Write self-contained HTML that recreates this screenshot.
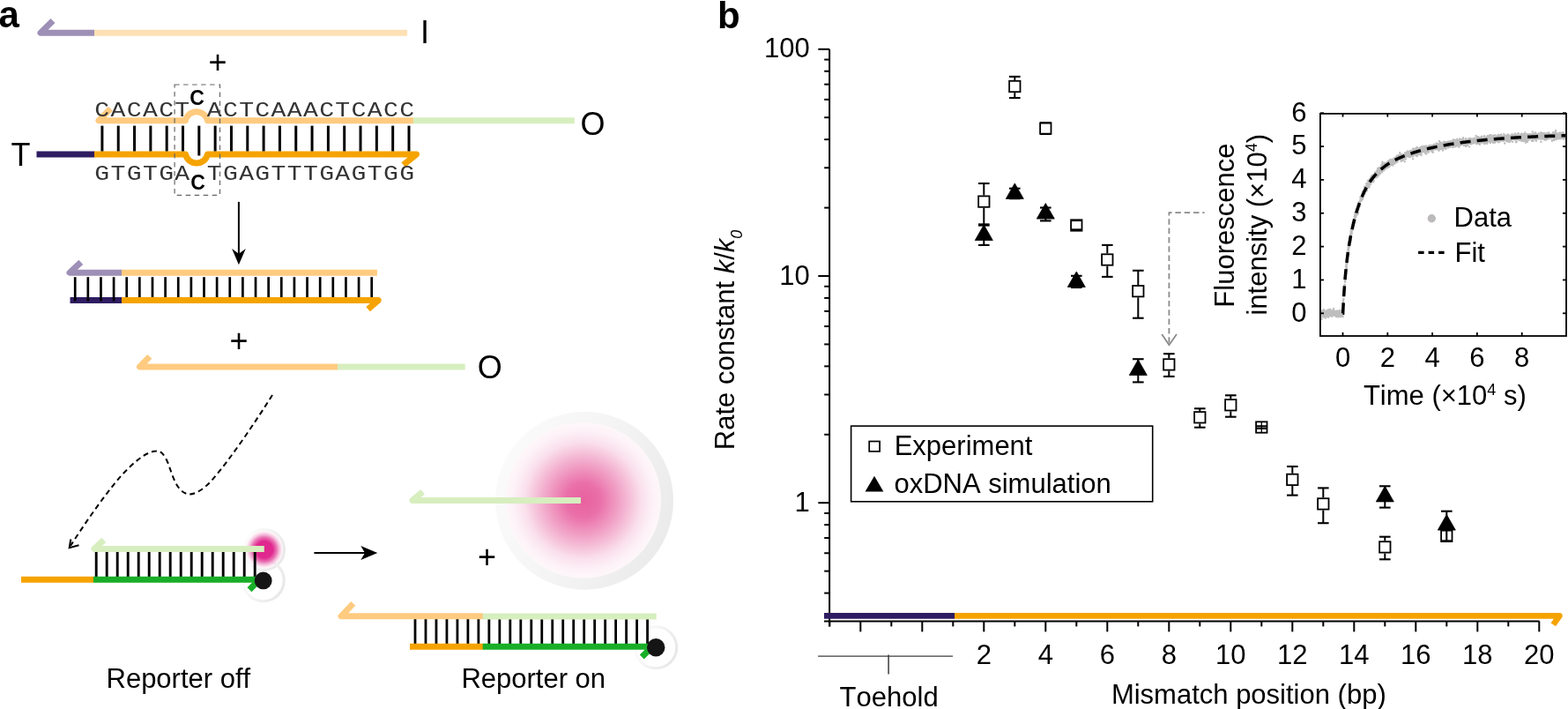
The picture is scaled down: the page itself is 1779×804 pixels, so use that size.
<!DOCTYPE html>
<html><head><meta charset="utf-8"><title>Figure</title>
<style>html,body{margin:0;padding:0;background:#fff;}svg{display:block;}text{font-kerning:none;}</style>
</head><body>
<svg width="1779" height="804" viewBox="0 0 1779 804">
<rect width="1779" height="804" fill="#fff"/>
<text x="-1.5" y="30.8" font-family="'Liberation Sans', Arial, sans-serif" font-size="42" text-anchor="start" font-weight="bold" >a</text>
<path d="M60,23.6 L46,37.3 H107.5" stroke="#9d8fb6" stroke-width="7" fill="none" stroke-linejoin="round"/>
<line x1="107" y1="37.3" x2="462" y2="37.3" stroke="#fde0b3" stroke-width="7" />
<text x="477.1" y="48.6" font-family="'Liberation Sans', Arial, sans-serif" font-size="36" text-anchor="start" font-weight="normal" >I</text>
<text x="247" y="82.7" font-family="'Liberation Sans', Arial, sans-serif" font-size="36" text-anchor="middle" font-weight="normal" >+</text>
<text x="12.6" y="188" font-family="'Liberation Sans', Arial, sans-serif" font-size="36" text-anchor="start" font-weight="normal" >T</text>
<line x1="41.5" y1="175" x2="107.5" y2="175" stroke="#2e1c62" stroke-width="7" />
<path d="M107,175 H210.5 A12.8,12.8 0 0 0 235.5,175 H472.5 L457.6,187" stroke="#f5a300" stroke-width="7" fill="none" stroke-linejoin="round"/>
<path d="M125.5,123.3 L112,136.8 H210.4 A12.8,12.8 0 0 1 235.4,136.8 H469" stroke="#ffcb80" stroke-width="7" fill="none" stroke-linejoin="round"/>
<line x1="468.8" y1="136.8" x2="651.8" y2="136.8" stroke="#d7eebf" stroke-width="7" />
<text x="658.4" y="153" font-family="'Liberation Sans', Arial, sans-serif" font-size="36" text-anchor="start" font-weight="normal" >O</text>
<line x1="115.9" y1="142.6" x2="115.9" y2="171.5" stroke="#000" stroke-width="3" />
<line x1="134.22" y1="142.6" x2="134.22" y2="171.5" stroke="#000" stroke-width="3" />
<line x1="152.54" y1="142.6" x2="152.54" y2="171.5" stroke="#000" stroke-width="3" />
<line x1="170.86" y1="142.6" x2="170.86" y2="171.5" stroke="#000" stroke-width="3" />
<line x1="189.18" y1="142.6" x2="189.18" y2="171.5" stroke="#000" stroke-width="3" />
<line x1="207.5" y1="142.6" x2="207.5" y2="171.5" stroke="#000" stroke-width="3" />
<line x1="225.82" y1="142.6" x2="225.82" y2="176.5" stroke="#000" stroke-width="3" />
<line x1="244.14" y1="142.6" x2="244.14" y2="171.5" stroke="#000" stroke-width="3" />
<line x1="262.46" y1="142.6" x2="262.46" y2="171.5" stroke="#000" stroke-width="3" />
<line x1="280.78" y1="142.6" x2="280.78" y2="171.5" stroke="#000" stroke-width="3" />
<line x1="299.1" y1="142.6" x2="299.1" y2="171.5" stroke="#000" stroke-width="3" />
<line x1="317.42" y1="142.6" x2="317.42" y2="171.5" stroke="#000" stroke-width="3" />
<line x1="335.74" y1="142.6" x2="335.74" y2="171.5" stroke="#000" stroke-width="3" />
<line x1="354.06" y1="142.6" x2="354.06" y2="171.5" stroke="#000" stroke-width="3" />
<line x1="372.38" y1="142.6" x2="372.38" y2="171.5" stroke="#000" stroke-width="3" />
<line x1="390.7" y1="142.6" x2="390.7" y2="171.5" stroke="#000" stroke-width="3" />
<line x1="409.02" y1="142.6" x2="409.02" y2="171.5" stroke="#000" stroke-width="3" />
<line x1="427.34" y1="142.6" x2="427.34" y2="171.5" stroke="#000" stroke-width="3" />
<line x1="445.66" y1="142.6" x2="445.66" y2="171.5" stroke="#000" stroke-width="3" />
<line x1="463.98" y1="142.6" x2="463.98" y2="171.5" stroke="#000" stroke-width="3" />
<text transform="scale(1.17,1)" x="98.97 114.53 130.09 145.64 161.2 176.75 192.31 207.86 223.42 238.97 254.53 270.09 285.64 301.2 316.75 332.31 347.86 363.42 378.97 394.53" y="131.8" font-family="'Liberation Mono', 'Courier New', monospace" font-size="24" text-anchor="middle" fill="#333" xml:space="preserve">CACACT ACTCAAACTCACC</text>
<text transform="scale(1.17,1)" x="98.97 114.53 130.09 145.64 161.2 176.75 192.31 207.86 223.42 238.97 254.53 270.09 285.64 301.2 316.75 332.31 347.86 363.42 378.97 394.53" y="204.4" font-family="'Liberation Mono', 'Courier New', monospace" font-size="24" text-anchor="middle" fill="#333" xml:space="preserve">GTGTGA TGAGTTTGAGTGG</text>
<text x="223.6" y="118.7" font-family="'Liberation Sans', Arial, sans-serif" font-size="23" text-anchor="middle" font-weight="bold" >C</text>
<text x="224.6" y="215.4" font-family="'Liberation Sans', Arial, sans-serif" font-size="23" text-anchor="middle" font-weight="bold" >C</text>
<rect x="198.1" y="96" width="51.4" height="125.3" fill="none" stroke="#666" stroke-width="1.2" stroke-dasharray="5.5 4.5"/>
<line x1="270.9" y1="228.9" x2="270.9" y2="290" stroke="#000" stroke-width="2" />
<path d="M270.9,300.3 L263.1,282.1 L270.9,287.8 L278.8,282.1 Z" fill="#000"/>
<line x1="79.5" y1="340.4" x2="138.5" y2="340.4" stroke="#2e1c62" stroke-width="7" />
<line x1="85.2" y1="314.2" x2="85.2" y2="341.5" stroke="#000" stroke-width="2.7" />
<line x1="99.83" y1="314.2" x2="99.83" y2="341.5" stroke="#000" stroke-width="2.7" />
<line x1="114.46" y1="314.2" x2="114.46" y2="341.5" stroke="#000" stroke-width="2.7" />
<line x1="129.09" y1="314.2" x2="129.09" y2="341.5" stroke="#000" stroke-width="2.7" />
<line x1="143.72" y1="314.2" x2="143.72" y2="341.5" stroke="#000" stroke-width="2.7" />
<line x1="158.35" y1="314.2" x2="158.35" y2="341.5" stroke="#000" stroke-width="2.7" />
<line x1="172.98" y1="314.2" x2="172.98" y2="341.5" stroke="#000" stroke-width="2.7" />
<line x1="187.61" y1="314.2" x2="187.61" y2="341.5" stroke="#000" stroke-width="2.7" />
<line x1="202.24" y1="314.2" x2="202.24" y2="341.5" stroke="#000" stroke-width="2.7" />
<line x1="216.87" y1="314.2" x2="216.87" y2="341.5" stroke="#000" stroke-width="2.7" />
<line x1="231.5" y1="314.2" x2="231.5" y2="341.5" stroke="#000" stroke-width="2.7" />
<line x1="246.13" y1="314.2" x2="246.13" y2="341.5" stroke="#000" stroke-width="2.7" />
<line x1="260.76" y1="314.2" x2="260.76" y2="341.5" stroke="#000" stroke-width="2.7" />
<line x1="275.39" y1="314.2" x2="275.39" y2="341.5" stroke="#000" stroke-width="2.7" />
<line x1="290.02" y1="314.2" x2="290.02" y2="341.5" stroke="#000" stroke-width="2.7" />
<line x1="304.65" y1="314.2" x2="304.65" y2="341.5" stroke="#000" stroke-width="2.7" />
<line x1="319.28" y1="314.2" x2="319.28" y2="341.5" stroke="#000" stroke-width="2.7" />
<line x1="333.91" y1="314.2" x2="333.91" y2="341.5" stroke="#000" stroke-width="2.7" />
<line x1="348.54" y1="314.2" x2="348.54" y2="341.5" stroke="#000" stroke-width="2.7" />
<line x1="363.17" y1="314.2" x2="363.17" y2="341.5" stroke="#000" stroke-width="2.7" />
<line x1="377.8" y1="314.2" x2="377.8" y2="341.5" stroke="#000" stroke-width="2.7" />
<line x1="392.43" y1="314.2" x2="392.43" y2="341.5" stroke="#000" stroke-width="2.7" />
<line x1="407.06" y1="314.2" x2="407.06" y2="341.5" stroke="#000" stroke-width="2.7" />
<line x1="421.69" y1="314.2" x2="421.69" y2="341.5" stroke="#000" stroke-width="2.7" />
<path d="M91.8,297.4 L79,309.2 H138.5" stroke="#9d8fb6" stroke-width="7" fill="none" stroke-linejoin="round"/>
<line x1="138" y1="309.2" x2="427.9" y2="309.2" stroke="#ffcb80" stroke-width="7" />
<path d="M138,340.6 H429.2 L417.6,350.6" stroke="#f5a300" stroke-width="7" fill="none" stroke-linejoin="round"/>
<text x="271" y="398.6" font-family="'Liberation Sans', Arial, sans-serif" font-size="36" text-anchor="middle" font-weight="normal" >+</text>
<path d="M169.8,404.4 L158.5,415.9 H383.2" stroke="#ffcb80" stroke-width="7" fill="none" stroke-linejoin="round"/>
<line x1="382.9" y1="415.9" x2="527.7" y2="415.9" stroke="#d7eebf" stroke-width="7" />
<text x="541.8" y="428.6" font-family="'Liberation Sans', Arial, sans-serif" font-size="36" text-anchor="start" font-weight="normal" >O</text>
<path d="M309,448 C290,478 262,520 240,545 C228,558 218,562 212,560 C200,556 196,540 191,526 C186,514 182,511 177,511.6 C165,512 150,526 137,540 C118,562 96,594 80,619" stroke="#000" stroke-width="2" fill="none" stroke-dasharray="6 4.2"/>
<path d="M80.3,611.5 L78.7,621.2 L89.5,618.2" stroke="#000" stroke-width="2" fill="none" stroke-linejoin="miter"/>
<defs>
<radialGradient id="gsmall" cx="0.5" cy="0.5" r="0.5">
 <stop offset="0" stop-color="#e2308f"/>
 <stop offset="0.45" stop-color="#e5449a"/>
 <stop offset="0.75" stop-color="#f0a0c8" stop-opacity="0.8"/>
 <stop offset="1" stop-color="#ffffff" stop-opacity="0"/>
</radialGradient>
<radialGradient id="gbig" cx="0.5" cy="0.5" r="0.5">
 <stop offset="0" stop-color="#e8619f"/>
 <stop offset="0.22" stop-color="#ea6fa9"/>
 <stop offset="0.5" stop-color="#f2aacb"/>
 <stop offset="0.75" stop-color="#fae0ec"/>
 <stop offset="0.9" stop-color="#fdf2f7"/>
 <stop offset="1" stop-color="#fef7fa"/>
</radialGradient>
<linearGradient id="ringbig" x1="0" y1="0.3" x2="1" y2="0.7">
 <stop offset="0" stop-color="#fbfbfb"/>
 <stop offset="0.5" stop-color="#f4f4f4"/>
 <stop offset="1" stop-color="#eaeaea"/>
</linearGradient>
<linearGradient id="ring" x1="0.05" y1="0.2" x2="0.95" y2="0.6">
 <stop offset="0" stop-color="#fdfdfd"/>
 <stop offset="0.45" stop-color="#f4f4f4"/>
 <stop offset="1" stop-color="#e8e8e8"/>
</linearGradient>
<radialGradient id="gsm2" cx="0.5" cy="0.5" r="0.5">
 <stop offset="0" stop-color="#e0268e"/>
 <stop offset="0.42" stop-color="#e02a90"/>
 <stop offset="0.62" stop-color="#e86aae" stop-opacity="0.9"/>
 <stop offset="0.82" stop-color="#f6c4de" stop-opacity="0.6"/>
 <stop offset="1" stop-color="#ffffff" stop-opacity="0"/>
</radialGradient>
</defs>
<circle cx="299.5" cy="623.3" r="23" fill="none" stroke="url(#ring)" stroke-width="3"/>
<circle cx="298.7" cy="658.3" r="23.5" fill="none" stroke="url(#ring)" stroke-width="3"/>
<circle cx="299.8" cy="623.2" r="23" fill="url(#gsm2)"/>
<line x1="24" y1="657.2" x2="106.5" y2="657.2" stroke="#f5a300" stroke-width="7" />
<line x1="109.2" y1="625.5" x2="109.2" y2="654" stroke="#000" stroke-width="2.9" />
<line x1="121.2" y1="625.5" x2="121.2" y2="654" stroke="#000" stroke-width="2.9" />
<line x1="133.2" y1="625.5" x2="133.2" y2="654" stroke="#000" stroke-width="2.9" />
<line x1="145.2" y1="625.5" x2="145.2" y2="654" stroke="#000" stroke-width="2.9" />
<line x1="157.2" y1="625.5" x2="157.2" y2="654" stroke="#000" stroke-width="2.9" />
<line x1="169.2" y1="625.5" x2="169.2" y2="654" stroke="#000" stroke-width="2.9" />
<line x1="181.2" y1="625.5" x2="181.2" y2="654" stroke="#000" stroke-width="2.9" />
<line x1="193.2" y1="625.5" x2="193.2" y2="654" stroke="#000" stroke-width="2.9" />
<line x1="205.2" y1="625.5" x2="205.2" y2="654" stroke="#000" stroke-width="2.9" />
<line x1="217.2" y1="625.5" x2="217.2" y2="654" stroke="#000" stroke-width="2.9" />
<line x1="229.2" y1="625.5" x2="229.2" y2="654" stroke="#000" stroke-width="2.9" />
<line x1="241.2" y1="625.5" x2="241.2" y2="654" stroke="#000" stroke-width="2.9" />
<line x1="253.2" y1="625.5" x2="253.2" y2="654" stroke="#000" stroke-width="2.9" />
<line x1="265.2" y1="625.5" x2="265.2" y2="654" stroke="#000" stroke-width="2.9" />
<line x1="277.2" y1="625.5" x2="277.2" y2="654" stroke="#000" stroke-width="2.9" />
<line x1="289.2" y1="625.5" x2="289.2" y2="654" stroke="#000" stroke-width="2.9" />
<path d="M106,657.3 H294.5 L283,668.8" stroke="#19ae28" stroke-width="7" fill="none" stroke-linejoin="round"/>
<path d="M117.8,612.4 L107,622.4 H299.8" stroke="#d7eebf" stroke-width="7" fill="none" stroke-linejoin="round"/>
<circle cx="298.7" cy="658.4" r="9.9" fill="#151515"/>
<line x1="356.4" y1="627" x2="416" y2="627" stroke="#000" stroke-width="2" />
<path d="M428.3,627 L409.3,619.1 L414,627 L409.3,635 Z" fill="#000"/>
<text x="552.6" y="644.3" font-family="'Liberation Sans', Arial, sans-serif" font-size="36" text-anchor="middle" font-weight="normal" >+</text>
<circle cx="663" cy="567.8" r="101" fill="url(#ringbig)"/>
<circle cx="661.6" cy="567.3" r="88.4" fill="url(#gbig)"/>
<path d="M479.6,557.8 L468,567.4 H659" stroke="#d7eebf" stroke-width="7" fill="none" stroke-linejoin="round"/>
<circle cx="744.2" cy="734.3" r="23.5" fill="none" stroke="url(#ring)" stroke-width="3"/>
<line x1="471" y1="702" x2="471" y2="731" stroke="#000" stroke-width="2.8" />
<line x1="482.98" y1="702" x2="482.98" y2="731" stroke="#000" stroke-width="2.8" />
<line x1="494.96" y1="702" x2="494.96" y2="731" stroke="#000" stroke-width="2.8" />
<line x1="506.94" y1="702" x2="506.94" y2="731" stroke="#000" stroke-width="2.8" />
<line x1="518.92" y1="702" x2="518.92" y2="731" stroke="#000" stroke-width="2.8" />
<line x1="530.9" y1="702" x2="530.9" y2="731" stroke="#000" stroke-width="2.8" />
<line x1="542.88" y1="702" x2="542.88" y2="731" stroke="#000" stroke-width="2.8" />
<line x1="554.86" y1="702" x2="554.86" y2="731" stroke="#000" stroke-width="2.8" />
<line x1="566.84" y1="702" x2="566.84" y2="731" stroke="#000" stroke-width="2.8" />
<line x1="578.82" y1="702" x2="578.82" y2="731" stroke="#000" stroke-width="2.8" />
<line x1="590.8" y1="702" x2="590.8" y2="731" stroke="#000" stroke-width="2.8" />
<line x1="602.78" y1="702" x2="602.78" y2="731" stroke="#000" stroke-width="2.8" />
<line x1="614.76" y1="702" x2="614.76" y2="731" stroke="#000" stroke-width="2.8" />
<line x1="626.74" y1="702" x2="626.74" y2="731" stroke="#000" stroke-width="2.8" />
<line x1="638.72" y1="702" x2="638.72" y2="731" stroke="#000" stroke-width="2.8" />
<line x1="650.7" y1="702" x2="650.7" y2="731" stroke="#000" stroke-width="2.8" />
<line x1="662.68" y1="702" x2="662.68" y2="731" stroke="#000" stroke-width="2.8" />
<line x1="674.66" y1="702" x2="674.66" y2="731" stroke="#000" stroke-width="2.8" />
<line x1="686.64" y1="702" x2="686.64" y2="731" stroke="#000" stroke-width="2.8" />
<line x1="698.62" y1="702" x2="698.62" y2="731" stroke="#000" stroke-width="2.8" />
<line x1="710.6" y1="702" x2="710.6" y2="731" stroke="#000" stroke-width="2.8" />
<line x1="722.58" y1="702" x2="722.58" y2="731" stroke="#000" stroke-width="2.8" />
<line x1="734.56" y1="702" x2="734.56" y2="731" stroke="#000" stroke-width="2.8" />
<path d="M400.8,684.4 L387,698.8 H548" stroke="#ffcb80" stroke-width="7" fill="none" stroke-linejoin="round"/>
<line x1="547.7" y1="699" x2="744.7" y2="699" stroke="#d7eebf" stroke-width="7" />
<line x1="465" y1="733.3" x2="548" y2="733.3" stroke="#f5a300" stroke-width="7" />
<path d="M547.7,733.3 H740 L728.3,745" stroke="#19ae28" stroke-width="7" fill="none" stroke-linejoin="round"/>
<circle cx="744.2" cy="734.3" r="10.2" fill="#151515"/>
<text x="120.5" y="779.5" font-family="'Liberation Sans', Arial, sans-serif" font-size="31" text-anchor="start" font-weight="normal" >Reporter off</text>
<text x="523.4" y="779.5" font-family="'Liberation Sans', Arial, sans-serif" font-size="31" text-anchor="start" font-weight="normal" >Reporter on</text>
<text x="814" y="32" font-family="'Liberation Sans', Arial, sans-serif" font-size="42" text-anchor="start" font-weight="bold" >b</text>
<line x1="941.1" y1="55.8" x2="941.1" y2="710.4" stroke="#000" stroke-width="2" />
<line x1="935.2" y1="672.55" x2="941.1" y2="672.55" stroke="#000" stroke-width="2" />
<line x1="935.2" y1="647.62" x2="941.1" y2="647.62" stroke="#000" stroke-width="2" />
<line x1="935.2" y1="627.26" x2="941.1" y2="627.26" stroke="#000" stroke-width="2" />
<line x1="935.2" y1="610.04" x2="941.1" y2="610.04" stroke="#000" stroke-width="2" />
<line x1="935.2" y1="595.13" x2="941.1" y2="595.13" stroke="#000" stroke-width="2" />
<line x1="935.2" y1="581.97" x2="941.1" y2="581.97" stroke="#000" stroke-width="2" />
<line x1="928.3" y1="570.2" x2="941.1" y2="570.2" stroke="#000" stroke-width="2" />
<line x1="935.2" y1="492.78" x2="941.1" y2="492.78" stroke="#000" stroke-width="2" />
<line x1="935.2" y1="447.48" x2="941.1" y2="447.48" stroke="#000" stroke-width="2" />
<line x1="935.2" y1="415.35" x2="941.1" y2="415.35" stroke="#000" stroke-width="2" />
<line x1="935.2" y1="390.42" x2="941.1" y2="390.42" stroke="#000" stroke-width="2" />
<line x1="935.2" y1="370.06" x2="941.1" y2="370.06" stroke="#000" stroke-width="2" />
<line x1="935.2" y1="352.84" x2="941.1" y2="352.84" stroke="#000" stroke-width="2" />
<line x1="935.2" y1="337.93" x2="941.1" y2="337.93" stroke="#000" stroke-width="2" />
<line x1="935.2" y1="324.77" x2="941.1" y2="324.77" stroke="#000" stroke-width="2" />
<line x1="928.3" y1="313" x2="941.1" y2="313" stroke="#000" stroke-width="2" />
<line x1="935.2" y1="235.58" x2="941.1" y2="235.58" stroke="#000" stroke-width="2" />
<line x1="935.2" y1="190.28" x2="941.1" y2="190.28" stroke="#000" stroke-width="2" />
<line x1="935.2" y1="158.15" x2="941.1" y2="158.15" stroke="#000" stroke-width="2" />
<line x1="935.2" y1="133.22" x2="941.1" y2="133.22" stroke="#000" stroke-width="2" />
<line x1="935.2" y1="112.86" x2="941.1" y2="112.86" stroke="#000" stroke-width="2" />
<line x1="935.2" y1="95.64" x2="941.1" y2="95.64" stroke="#000" stroke-width="2" />
<line x1="935.2" y1="80.73" x2="941.1" y2="80.73" stroke="#000" stroke-width="2" />
<line x1="935.2" y1="67.57" x2="941.1" y2="67.57" stroke="#000" stroke-width="2" />
<line x1="928.3" y1="55.8" x2="941.1" y2="55.8" stroke="#000" stroke-width="2" />
<text x="918.8" y="65.4" font-family="'Liberation Sans', Arial, sans-serif" font-size="31" text-anchor="end" font-weight="normal" >100</text>
<text x="918.8" y="322.6" font-family="'Liberation Sans', Arial, sans-serif" font-size="31" text-anchor="end" font-weight="normal" >10</text>
<text x="918.8" y="579.8" font-family="'Liberation Sans', Arial, sans-serif" font-size="31" text-anchor="end" font-weight="normal" >1</text>
<text transform="translate(832.8,510.2) rotate(-90)" font-family="'Liberation Sans', Arial, sans-serif" font-size="31">Rate constant <tspan font-style="italic">k</tspan>/<tspan font-style="italic">k</tspan><tspan font-style="italic" font-size="18" dy="9">0</tspan></text>
<line x1="935" y1="704.5" x2="1746.6" y2="704.5" stroke="#000" stroke-width="2" />
<line x1="941.3" y1="704.5" x2="941.3" y2="710.4" stroke="#000" stroke-width="2" />
<line x1="976.3" y1="704.5" x2="976.3" y2="716.4" stroke="#000" stroke-width="2" />
<line x1="1011.3" y1="704.5" x2="1011.3" y2="710.4" stroke="#000" stroke-width="2" />
<line x1="1046.3" y1="704.5" x2="1046.3" y2="716.4" stroke="#000" stroke-width="2" />
<line x1="1081.3" y1="704.5" x2="1081.3" y2="710.4" stroke="#000" stroke-width="2" />
<line x1="1116.3" y1="704.5" x2="1116.3" y2="716.4" stroke="#000" stroke-width="2" />
<line x1="1151.3" y1="704.5" x2="1151.3" y2="710.4" stroke="#000" stroke-width="2" />
<line x1="1186.3" y1="704.5" x2="1186.3" y2="716.4" stroke="#000" stroke-width="2" />
<line x1="1221.3" y1="704.5" x2="1221.3" y2="710.4" stroke="#000" stroke-width="2" />
<line x1="1256.3" y1="704.5" x2="1256.3" y2="716.4" stroke="#000" stroke-width="2" />
<line x1="1291.3" y1="704.5" x2="1291.3" y2="710.4" stroke="#000" stroke-width="2" />
<line x1="1326.3" y1="704.5" x2="1326.3" y2="716.4" stroke="#000" stroke-width="2" />
<line x1="1361.3" y1="704.5" x2="1361.3" y2="710.4" stroke="#000" stroke-width="2" />
<line x1="1396.3" y1="704.5" x2="1396.3" y2="716.4" stroke="#000" stroke-width="2" />
<line x1="1431.3" y1="704.5" x2="1431.3" y2="710.4" stroke="#000" stroke-width="2" />
<line x1="1466.3" y1="704.5" x2="1466.3" y2="716.4" stroke="#000" stroke-width="2" />
<line x1="1501.3" y1="704.5" x2="1501.3" y2="710.4" stroke="#000" stroke-width="2" />
<line x1="1536.3" y1="704.5" x2="1536.3" y2="716.4" stroke="#000" stroke-width="2" />
<line x1="1571.3" y1="704.5" x2="1571.3" y2="710.4" stroke="#000" stroke-width="2" />
<line x1="1606.3" y1="704.5" x2="1606.3" y2="716.4" stroke="#000" stroke-width="2" />
<line x1="1641.3" y1="704.5" x2="1641.3" y2="710.4" stroke="#000" stroke-width="2" />
<line x1="1676.3" y1="704.5" x2="1676.3" y2="716.4" stroke="#000" stroke-width="2" />
<line x1="1711.3" y1="704.5" x2="1711.3" y2="710.4" stroke="#000" stroke-width="2" />
<line x1="1746.3" y1="704.5" x2="1746.3" y2="716.4" stroke="#000" stroke-width="2" />
<text x="1116.3" y="753.4" font-family="'Liberation Sans', Arial, sans-serif" font-size="31" text-anchor="middle" font-weight="normal" >2</text>
<text x="1186.3" y="753.4" font-family="'Liberation Sans', Arial, sans-serif" font-size="31" text-anchor="middle" font-weight="normal" >4</text>
<text x="1256.3" y="753.4" font-family="'Liberation Sans', Arial, sans-serif" font-size="31" text-anchor="middle" font-weight="normal" >6</text>
<text x="1326.3" y="753.4" font-family="'Liberation Sans', Arial, sans-serif" font-size="31" text-anchor="middle" font-weight="normal" >8</text>
<text x="1396.3" y="753.4" font-family="'Liberation Sans', Arial, sans-serif" font-size="31" text-anchor="middle" font-weight="normal" >10</text>
<text x="1466.3" y="753.4" font-family="'Liberation Sans', Arial, sans-serif" font-size="31" text-anchor="middle" font-weight="normal" >12</text>
<text x="1536.3" y="753.4" font-family="'Liberation Sans', Arial, sans-serif" font-size="31" text-anchor="middle" font-weight="normal" >14</text>
<text x="1606.3" y="753.4" font-family="'Liberation Sans', Arial, sans-serif" font-size="31" text-anchor="middle" font-weight="normal" >16</text>
<text x="1676.3" y="753.4" font-family="'Liberation Sans', Arial, sans-serif" font-size="31" text-anchor="middle" font-weight="normal" >18</text>
<text x="1746.3" y="753.4" font-family="'Liberation Sans', Arial, sans-serif" font-size="31" text-anchor="middle" font-weight="normal" >20</text>
<line x1="935" y1="698.4" x2="1083.5" y2="698.4" stroke="#2e1c62" stroke-width="6.8" />
<path d="M1083,698.4 H1769.3 L1762.3,708.4" stroke="#f5a300" stroke-width="6.8" fill="none" stroke-linejoin="round"/>
<line x1="928.1" y1="744.1" x2="1081" y2="744.1" stroke="#3c3c3c" stroke-width="1.4" />
<line x1="1008.1" y1="742.4" x2="1008.1" y2="764.6" stroke="#3c3c3c" stroke-width="1.5" />
<text x="952.6" y="800.5" font-family="'Liberation Sans', Arial, sans-serif" font-size="31" text-anchor="start" font-weight="normal" >Toehold</text>
<text x="1260.9" y="797.5" font-family="'Liberation Sans', Arial, sans-serif" font-size="31" text-anchor="start" font-weight="normal" >Mismatch position (bp)</text>
<path d="M1366.6,241.2 H1326.4 V390" stroke="#8a8a8a" stroke-width="1.8" fill="none" stroke-dasharray="6.5 3.8" stroke-dashoffset="4.2"/>
<path d="M1318.2,378.9 L1326.4,391.2 L1335,378.9" stroke="#8a8a8a" stroke-width="1.8" fill="none" />
<line x1="1116.3" y1="208" x2="1116.3" y2="221.5" stroke="#000" stroke-width="2" />
<line x1="1116.3" y1="235.7" x2="1116.3" y2="254.4" stroke="#000" stroke-width="2" />
<rect x="1110.1" y="222.4" width="12.4" height="12.4" fill="#fff" stroke="#000" stroke-width="1.8"/>
<line x1="1110" y1="208" x2="1122.6" y2="208" stroke="#000" stroke-width="2.1" />
<line x1="1110" y1="254.4" x2="1122.6" y2="254.4" stroke="#000" stroke-width="2.1" />
<line x1="1151.3" y1="86.9" x2="1151.3" y2="90.9" stroke="#000" stroke-width="2" />
<line x1="1151.3" y1="105.1" x2="1151.3" y2="111" stroke="#000" stroke-width="2" />
<rect x="1145.1" y="91.8" width="12.4" height="12.4" fill="#fff" stroke="#000" stroke-width="1.8"/>
<line x1="1145" y1="86.9" x2="1157.6" y2="86.9" stroke="#000" stroke-width="2.1" />
<line x1="1145" y1="111" x2="1157.6" y2="111" stroke="#000" stroke-width="2.1" />
<rect x="1180.1" y="139.4" width="12.4" height="12.4" fill="#fff" stroke="#000" stroke-width="1.8"/>
<line x1="1180" y1="139.3" x2="1192.6" y2="139.3" stroke="#000" stroke-width="2.1" />
<line x1="1180" y1="151.9" x2="1192.6" y2="151.9" stroke="#000" stroke-width="2.1" />
<rect x="1215.1" y="249.3" width="12.4" height="12.4" fill="#fff" stroke="#000" stroke-width="1.8"/>
<line x1="1215" y1="250" x2="1227.6" y2="250" stroke="#000" stroke-width="2.1" />
<line x1="1215" y1="260.4" x2="1227.6" y2="260.4" stroke="#000" stroke-width="2.1" />
<line x1="1256.3" y1="277.9" x2="1256.3" y2="287.4" stroke="#000" stroke-width="2" />
<line x1="1256.3" y1="301.6" x2="1256.3" y2="313.9" stroke="#000" stroke-width="2" />
<rect x="1250.1" y="288.3" width="12.4" height="12.4" fill="#fff" stroke="#000" stroke-width="1.8"/>
<line x1="1250" y1="277.9" x2="1262.6" y2="277.9" stroke="#000" stroke-width="2.1" />
<line x1="1250" y1="313.9" x2="1262.6" y2="313.9" stroke="#000" stroke-width="2.1" />
<line x1="1291.3" y1="306.8" x2="1291.3" y2="323.1" stroke="#000" stroke-width="2" />
<line x1="1291.3" y1="337.3" x2="1291.3" y2="360.7" stroke="#000" stroke-width="2" />
<rect x="1285.1" y="324" width="12.4" height="12.4" fill="#fff" stroke="#000" stroke-width="1.8"/>
<line x1="1285" y1="306.8" x2="1297.6" y2="306.8" stroke="#000" stroke-width="2.1" />
<line x1="1285" y1="360.7" x2="1297.6" y2="360.7" stroke="#000" stroke-width="2.1" />
<line x1="1326.3" y1="401.2" x2="1326.3" y2="406.3" stroke="#000" stroke-width="2" />
<line x1="1326.3" y1="420.5" x2="1326.3" y2="426.9" stroke="#000" stroke-width="2" />
<rect x="1320.1" y="407.2" width="12.4" height="12.4" fill="#fff" stroke="#000" stroke-width="1.8"/>
<line x1="1320" y1="401.2" x2="1332.6" y2="401.2" stroke="#000" stroke-width="2.1" />
<line x1="1320" y1="426.9" x2="1332.6" y2="426.9" stroke="#000" stroke-width="2.1" />
<line x1="1361.3" y1="463.3" x2="1361.3" y2="466.2" stroke="#000" stroke-width="2" />
<line x1="1361.3" y1="480.4" x2="1361.3" y2="484.7" stroke="#000" stroke-width="2" />
<rect x="1355.1" y="467.1" width="12.4" height="12.4" fill="#fff" stroke="#000" stroke-width="1.8"/>
<line x1="1355" y1="463.3" x2="1367.6" y2="463.3" stroke="#000" stroke-width="2.1" />
<line x1="1355" y1="484.7" x2="1367.6" y2="484.7" stroke="#000" stroke-width="2.1" />
<line x1="1396.3" y1="448.3" x2="1396.3" y2="452.2" stroke="#000" stroke-width="2" />
<line x1="1396.3" y1="466.4" x2="1396.3" y2="472.7" stroke="#000" stroke-width="2" />
<rect x="1390.1" y="453.1" width="12.4" height="12.4" fill="#fff" stroke="#000" stroke-width="1.8"/>
<line x1="1390" y1="448.3" x2="1402.6" y2="448.3" stroke="#000" stroke-width="2.1" />
<line x1="1390" y1="472.7" x2="1402.6" y2="472.7" stroke="#000" stroke-width="2.1" />
<rect x="1425.1" y="478.3" width="12.4" height="12.4" fill="#fff" stroke="#000" stroke-width="1.8"/>
<line x1="1431.3" y1="478.4" x2="1431.3" y2="490.6" stroke="#000" stroke-width="1.3" />
<line x1="1425" y1="483.3" x2="1437.6" y2="483.3" stroke="#000" stroke-width="2.1" />
<line x1="1425" y1="485.8" x2="1437.6" y2="485.8" stroke="#000" stroke-width="2.1" />
<line x1="1466.3" y1="529" x2="1466.3" y2="536.8" stroke="#000" stroke-width="2" />
<line x1="1466.3" y1="551" x2="1466.3" y2="561.6" stroke="#000" stroke-width="2" />
<rect x="1460.1" y="537.7" width="12.4" height="12.4" fill="#fff" stroke="#000" stroke-width="1.8"/>
<line x1="1460" y1="529" x2="1472.6" y2="529" stroke="#000" stroke-width="2.1" />
<line x1="1460" y1="561.6" x2="1472.6" y2="561.6" stroke="#000" stroke-width="2.1" />
<line x1="1501.3" y1="553.4" x2="1501.3" y2="564.3" stroke="#000" stroke-width="2" />
<line x1="1501.3" y1="578.5" x2="1501.3" y2="593.2" stroke="#000" stroke-width="2" />
<rect x="1495.1" y="565.2" width="12.4" height="12.4" fill="#fff" stroke="#000" stroke-width="1.8"/>
<line x1="1495" y1="553.4" x2="1507.6" y2="553.4" stroke="#000" stroke-width="2.1" />
<line x1="1495" y1="593.2" x2="1507.6" y2="593.2" stroke="#000" stroke-width="2.1" />
<line x1="1571.3" y1="608.7" x2="1571.3" y2="613.3" stroke="#000" stroke-width="2" />
<line x1="1571.3" y1="627.5" x2="1571.3" y2="634.3" stroke="#000" stroke-width="2" />
<rect x="1565.1" y="614.2" width="12.4" height="12.4" fill="#fff" stroke="#000" stroke-width="1.8"/>
<line x1="1565" y1="608.7" x2="1577.6" y2="608.7" stroke="#000" stroke-width="2.1" />
<line x1="1565" y1="634.3" x2="1577.6" y2="634.3" stroke="#000" stroke-width="2.1" />
<rect x="1635.1" y="601.6" width="12.4" height="12.4" fill="#fff" stroke="#000" stroke-width="1.8"/>
<line x1="1641.3" y1="601.7" x2="1641.3" y2="613.9" stroke="#000" stroke-width="1.3" />
<line x1="1635" y1="601" x2="1647.6" y2="601" stroke="#000" stroke-width="2.1" />
<line x1="1635" y1="613.6" x2="1647.6" y2="613.6" stroke="#000" stroke-width="2.1" />
<line x1="1116.3" y1="255.6" x2="1116.3" y2="277.9" stroke="#000" stroke-width="2" />
<line x1="1110" y1="255.6" x2="1122.6" y2="255.6" stroke="#000" stroke-width="2.1" />
<line x1="1110" y1="277.9" x2="1122.6" y2="277.9" stroke="#000" stroke-width="2.1" />
<path d="M1116.3,255 L1126.3,272.5 L1106.3,272.5 Z" fill="#000" stroke="#000" stroke-width="0.8" stroke-linejoin="round"/>
<line x1="1151.3" y1="213.7" x2="1151.3" y2="225.2" stroke="#000" stroke-width="2" />
<line x1="1145" y1="213.7" x2="1157.6" y2="213.7" stroke="#000" stroke-width="2.1" />
<line x1="1145" y1="225.2" x2="1157.6" y2="225.2" stroke="#000" stroke-width="2.1" />
<path d="M1151.3,207.9 L1161.3,225.4 L1141.3,225.4 Z" fill="#000" stroke="#000" stroke-width="0.8" stroke-linejoin="round"/>
<line x1="1186.3" y1="235.5" x2="1186.3" y2="250.4" stroke="#000" stroke-width="2" />
<line x1="1180" y1="235.5" x2="1192.6" y2="235.5" stroke="#000" stroke-width="2.1" />
<line x1="1180" y1="250.4" x2="1192.6" y2="250.4" stroke="#000" stroke-width="2.1" />
<path d="M1186.3,230.6 L1196.3,248.1 L1176.3,248.1 Z" fill="#000" stroke="#000" stroke-width="0.8" stroke-linejoin="round"/>
<line x1="1221.3" y1="312.8" x2="1221.3" y2="326" stroke="#000" stroke-width="2" />
<line x1="1215" y1="312.8" x2="1227.6" y2="312.8" stroke="#000" stroke-width="2.1" />
<line x1="1215" y1="326" x2="1227.6" y2="326" stroke="#000" stroke-width="2.1" />
<path d="M1221.3,308 L1231.3,325.5 L1211.3,325.5 Z" fill="#000" stroke="#000" stroke-width="0.8" stroke-linejoin="round"/>
<line x1="1291.3" y1="407.2" x2="1291.3" y2="433.4" stroke="#000" stroke-width="2" />
<line x1="1285" y1="407.2" x2="1297.6" y2="407.2" stroke="#000" stroke-width="2.1" />
<line x1="1285" y1="433.4" x2="1297.6" y2="433.4" stroke="#000" stroke-width="2.1" />
<path d="M1291.3,407.9 L1301.3,425.4 L1281.3,425.4 Z" fill="#000" stroke="#000" stroke-width="0.8" stroke-linejoin="round"/>
<line x1="1571.3" y1="551.3" x2="1571.3" y2="575.6" stroke="#000" stroke-width="2" />
<line x1="1565" y1="551.3" x2="1577.6" y2="551.3" stroke="#000" stroke-width="2.1" />
<line x1="1565" y1="575.6" x2="1577.6" y2="575.6" stroke="#000" stroke-width="2.1" />
<path d="M1571.3,551.4 L1581.3,568.9 L1561.3,568.9 Z" fill="#000" stroke="#000" stroke-width="0.8" stroke-linejoin="round"/>
<line x1="1641.3" y1="579.7" x2="1641.3" y2="613.6" stroke="#000" stroke-width="2" />
<line x1="1635" y1="579.7" x2="1647.6" y2="579.7" stroke="#000" stroke-width="2.1" />
<line x1="1635" y1="613.6" x2="1647.6" y2="613.6" stroke="#000" stroke-width="2.1" />
<path d="M1641.3,583.6 L1651.3,601.1 L1631.3,601.1 Z" fill="#000" stroke="#000" stroke-width="0.8" stroke-linejoin="round"/>
<rect x="965.6" y="483.1" width="342.1" height="85.7" fill="none" stroke="#000" stroke-width="1.6"/>
<rect x="986.2" y="500.5" width="11.9" height="11.4" fill="none" stroke="#000" stroke-width="1.7"/>
<path d="M992,539.7 L1002.4,557.4 L981.6,557.4 Z" fill="#000"/>
<text x="1014.7" y="515.8" font-family="'Liberation Sans', Arial, sans-serif" font-size="31" text-anchor="start" font-weight="normal" >Experiment</text>
<text x="1014.4" y="559" font-family="'Liberation Sans', Arial, sans-serif" font-size="31" text-anchor="start" font-weight="normal" >oxDNA simulation</text>
<path d="M1499.06,353.45h0.01 M1499.49,354.77h0.01 M1499.52,355.6h0.01 M1500.03,355.43h0.01 M1499.34,355.95h0.01 M1499.59,361.86h0.01 M1500.28,352.48h0.01 M1499.46,355.72h0.01 M1500.04,356.94h0.01 M1500.42,353.51h0.01 M1500.34,358.4h0.01 M1500.24,356.62h0.01 M1500.15,359.23h0.01 M1500.35,356.08h0.01 M1500.65,357.59h0.01 M1501.15,353.12h0.01 M1500.51,355.98h0.01 M1501.16,353.24h0.01 M1501.35,356.18h0.01 M1500.55,355.92h0.01 M1501.45,352.72h0.01 M1500.91,356.4h0.01 M1501.16,353.9h0.01 M1501.25,356.52h0.01 M1501.5,357.8h0.01 M1501.92,353.59h0.01 M1501.83,358.28h0.01 M1501.25,355.13h0.01 M1502.09,359.53h0.01 M1501.74,354.34h0.01 M1502.17,356.21h0.01 M1502,358.96h0.01 M1501.65,358.92h0.01 M1502.75,356.82h0.01 M1501.67,355.94h0.01 M1501.74,353.35h0.01 M1502.17,355.78h0.01 M1501.87,351.27h0.01 M1502.56,358.36h0.01 M1502.47,356.19h0.01 M1503.13,357.66h0.01 M1503.27,355.01h0.01 M1502.7,357.7h0.01 M1502.36,356.56h0.01 M1502.56,353h0.01 M1502.77,356.8h0.01 M1502.63,356.47h0.01 M1503.73,354.02h0.01 M1503.91,353.7h0.01 M1503.46,356.84h0.01 M1503.61,353.19h0.01 M1503.83,353.85h0.01 M1504.22,353.18h0.01 M1503.95,355.21h0.01 M1503.63,353.56h0.01 M1503.97,360.54h0.01 M1504,357.37h0.01 M1504.29,355.45h0.01 M1503.62,353.19h0.01 M1503.67,353.42h0.01 M1504.6,352.35h0.01 M1504.27,355.93h0.01 M1504.7,355.27h0.01 M1504.18,354.88h0.01 M1504.92,356.78h0.01 M1504.65,354.95h0.01 M1505.07,354.49h0.01 M1504.73,357.02h0.01 M1504.8,353.91h0.01 M1505.06,354.34h0.01 M1505.54,357.86h0.01 M1505.49,355.74h0.01 M1505.24,355.92h0.01 M1505.15,358.86h0.01 M1505.09,352.46h0.01 M1505.24,356.53h0.01 M1505.51,353.4h0.01 M1505.65,358.57h0.01 M1506.4,356.18h0.01 M1506.15,356.88h0.01 M1506.44,353.94h0.01 M1505.77,355.73h0.01 M1506.26,356.62h0.01 M1506.63,358.68h0.01 M1506.1,354.65h0.01 M1506.65,358.87h0.01 M1506.85,354.71h0.01 M1506.49,356.17h0.01 M1507.09,355.06h0.01 M1506.64,357.13h0.01 M1506.89,351.51h0.01 M1506.58,357.72h0.01 M1506.4,359.16h0.01 M1507.83,353.86h0.01 M1507.17,359.66h0.01 M1506.91,353.89h0.01 M1507.79,356.83h0.01 M1507.52,352.78h0.01 M1507.24,354.52h0.01 M1507.23,356.51h0.01 M1507.86,354.46h0.01 M1507.21,358.85h0.01 M1508.49,353.73h0.01 M1508.48,351.04h0.01 M1508.49,355.01h0.01 M1508.55,355.15h0.01 M1507.87,354.39h0.01 M1508.29,358.11h0.01 M1508.41,357.85h0.01 M1508.32,354.27h0.01 M1508.22,356.77h0.01 M1509.11,353.56h0.01 M1508.59,356.1h0.01 M1509.15,357.64h0.01 M1508.63,356.47h0.01 M1509.39,350.94h0.01 M1509.41,358.11h0.01 M1509.71,355.43h0.01 M1508.74,355.09h0.01 M1509.31,356.87h0.01 M1509.44,351.89h0.01 M1508.93,355.89h0.01 M1509,356.02h0.01 M1509.27,356.04h0.01 M1510.35,355.82h0.01 M1509.79,354.63h0.01 M1509.82,354.57h0.01 M1510.21,357.01h0.01 M1510.14,354.46h0.01 M1510.09,356.3h0.01 M1509.84,352.32h0.01 M1510.15,354.22h0.01 M1510.04,356.14h0.01 M1510.67,357.04h0.01 M1510.89,352.68h0.01 M1510.95,357.76h0.01 M1510.72,353.67h0.01 M1511.04,356.98h0.01 M1510.96,354.54h0.01 M1510.75,353.21h0.01 M1511.1,355.04h0.01 M1511.22,354.57h0.01 M1511.22,358.72h0.01 M1511.16,352.08h0.01 M1512.04,355.7h0.01 M1511.52,353.79h0.01 M1511.11,356.44h0.01 M1512.28,352.58h0.01 M1512.17,353.69h0.01 M1511.89,352.47h0.01 M1511.59,355.13h0.01 M1511.64,355.2h0.01 M1512.4,356.14h0.01 M1511.84,355.54h0.01 M1512.78,355.49h0.01 M1512.73,355.69h0.01 M1512.12,356.97h0.01 M1512.98,352.81h0.01 M1513.12,352.15h0.01 M1512.28,353.59h0.01 M1513.15,352.14h0.01 M1512.36,355.07h0.01 M1513.38,355.95h0.01 M1512.88,355.02h0.01 M1513.16,356h0.01 M1512.96,353.99h0.01 M1513.04,352.8h0.01 M1513.21,353.07h0.01 M1513.43,353.82h0.01 M1513.5,356.42h0.01 M1513.09,349.92h0.01 M1513.74,355.29h0.01 M1514.14,356.93h0.01 M1514.16,357.89h0.01 M1514.31,353.01h0.01 M1514.27,355.05h0.01 M1514.58,355.83h0.01 M1514.65,356.02h0.01 M1514.86,353.15h0.01 M1514.62,355.07h0.01 M1514.23,355.15h0.01 M1514.71,356.63h0.01 M1514.39,355.64h0.01 M1515.41,358.35h0.01 M1514.62,354.73h0.01 M1515.29,353.32h0.01 M1515.22,355.15h0.01 M1514.55,356.69h0.01 M1515.09,354.39h0.01 M1515.2,356.13h0.01 M1515.16,355.47h0.01 M1515.96,354.2h0.01 M1515.6,353.47h0.01 M1516.03,353.99h0.01 M1516.01,353.15h0.01 M1516.14,354.5h0.01 M1516.31,352.67h0.01 M1516.43,357.21h0.01 M1516.09,355.49h0.01 M1516.4,356.75h0.01 M1516.34,359.09h0.01 M1516.08,354.29h0.01 M1516.02,355.23h0.01 M1516.63,356.59h0.01 M1517.07,356.54h0.01 M1517.08,354.4h0.01 M1516.42,352.44h0.01 M1516.4,356.8h0.01 M1516.41,356.14h0.01 M1516.72,353.86h0.01 M1517.25,355.19h0.01 M1516.95,355.09h0.01 M1517.07,353.93h0.01 M1517.51,355.42h0.01 M1517.95,353.36h0.01 M1516.95,356.89h0.01 M1517.39,354.8h0.01 M1518.12,354.46h0.01 M1518.15,359.21h0.01 M1517.76,358.02h0.01 M1518.24,355.38h0.01 M1518.12,353.63h0.01 M1518.35,355.84h0.01 M1518.47,353.82h0.01 M1518.72,354.14h0.01 M1517.96,353.11h0.01 M1518.41,353.39h0.01 M1518.63,357.85h0.01 M1518.75,356.49h0.01 M1518.83,357.92h0.01 M1518.29,357.55h0.01 M1518.48,353.44h0.01 M1519.45,356.43h0.01 M1519.19,356.69h0.01 M1519.3,352.58h0.01 M1519.13,354.32h0.01 M1518.96,355.64h0.01 M1519.7,355.97h0.01 M1519.74,352.14h0.01 M1519.27,354.42h0.01 M1519.41,352.28h0.01 M1519.14,358.02h0.01 M1519.7,355.36h0.01 M1519.77,358.72h0.01 M1519.74,353.25h0.01 M1520.27,356.73h0.01 M1520.02,355.86h0.01 M1519.92,354.5h0.01 M1519.72,357.94h0.01 M1520.72,357.56h0.01 M1520.07,356.07h0.01 M1520.74,357.23h0.01 M1521.08,355.28h0.01 M1520.28,352.62h0.01 M1520.58,356.15h0.01 M1521.04,357.6h0.01 M1520.6,355.3h0.01 M1520.4,358.79h0.01 M1521.58,359.09h0.01 M1521.07,352.21h0.01 M1521.28,352.84h0.01 M1522.04,353.89h0.01 M1521.69,354.09h0.01 M1521.45,359.08h0.01 M1521.84,355.28h0.01 M1522.05,355.16h0.01 M1521.92,352.87h0.01 M1521.93,355.42h0.01 M1521.61,354.76h0.01 M1521.98,355.2h0.01 M1522.41,352.87h0.01 M1522.78,356.19h0.01 M1522.7,357.64h0.01 M1522.63,357.97h0.01 M1521.94,354.37h0.01 M1521.98,356.42h0.01 M1522.78,356.9h0.01 M1523.18,354.55h0.01 M1522.97,357.93h0.01 M1523.11,358.26h0.01 M1523.5,354.6h0.01 M1522.8,352.09h0.01 M1523.61,358.92h0.01 M1523.17,353.65h0.01 M1523.55,354.34h0.01 M1522.95,355.39h0.01 M1522.99,355.66h0.01 M1523.5,356.43h0.01 M1523.99,350.73h0.01 M1523.93,352.28h0.01 M1523.52,349.49h0.01 M1523.89,348.47h0.01 M1523.62,350.3h0.01 M1523.85,345.84h0.01 M1524.11,340.35h0.01 M1523.93,342.51h0.01 M1523.67,343.89h0.01 M1524.09,341.95h0.01 M1524.47,339.04h0.01 M1524.12,339.86h0.01 M1524.65,334.65h0.01 M1524.3,334.83h0.01 M1524.37,333.71h0.01 M1524.45,330.54h0.01 M1524.96,327.89h0.01 M1524.49,332.21h0.01 M1525.16,326.44h0.01 M1525.84,327.09h0.01 M1524.94,328.69h0.01 M1525.13,324.59h0.01 M1525.68,322.74h0.01 M1524.99,324.17h0.01 M1526.06,319.47h0.01 M1525.74,323.5h0.01 M1526.31,319.55h0.01 M1525.76,318.33h0.01 M1526.42,315.62h0.01 M1525.55,315.56h0.01 M1526.51,316.54h0.01 M1525.7,313.4h0.01 M1525.73,314.94h0.01 M1525.99,311.74h0.01 M1526.01,308.65h0.01 M1526.19,307.54h0.01 M1527.37,304.81h0.01 M1527.3,308.9h0.01 M1527.33,310.04h0.01 M1527.18,306.16h0.01 M1527.59,307.22h0.01 M1527.48,306.67h0.01 M1526.85,301.94h0.01 M1527.53,304.48h0.01 M1527.82,304.82h0.01 M1527.84,303.88h0.01 M1527.97,296.67h0.01 M1527.4,299.46h0.01 M1527.72,299.13h0.01 M1527.79,302.13h0.01 M1527.54,300.22h0.01 M1528.2,299.29h0.01 M1528.32,294.74h0.01 M1527.66,298h0.01 M1528.58,296.6h0.01 M1528.64,294.71h0.01 M1528.54,295.59h0.01 M1528.99,293.19h0.01 M1528.75,295.28h0.01 M1528.52,289.55h0.01 M1529.31,290.19h0.01 M1528.68,288.6h0.01 M1528.32,286.36h0.01 M1528.61,291.44h0.01 M1529.17,289.12h0.01 M1529.27,289.01h0.01 M1529.03,287.75h0.01 M1529.52,287h0.01 M1529.44,288.09h0.01 M1530.16,284.97h0.01 M1529.26,282.94h0.01 M1529.93,284.07h0.01 M1529.98,283.73h0.01 M1529.48,280.73h0.01 M1529.46,286.42h0.01 M1529.64,283.24h0.01 M1529.53,282.76h0.01 M1530.58,281.18h0.01 M1529.86,278.43h0.01 M1530.75,280.13h0.01 M1530.5,277.69h0.01 M1531.06,275.6h0.01 M1530.43,276.5h0.01 M1530.15,276.92h0.01 M1531.27,273.63h0.01 M1530.51,274.63h0.01 M1530.91,273.53h0.01 M1530.61,275.89h0.01 M1530.94,274.4h0.01 M1531.18,275.24h0.01 M1531.66,271.13h0.01 M1531.5,275.04h0.01 M1531.03,269.79h0.01 M1531.43,277.58h0.01 M1531.54,273.46h0.01 M1531.23,272.96h0.01 M1532.4,270.24h0.01 M1532.47,266.81h0.01 M1532.02,273.09h0.01 M1532.04,268.43h0.01 M1532.67,273.48h0.01 M1532.12,266.67h0.01 M1532.72,262.38h0.01 M1532.89,271.91h0.01 M1532.14,269.29h0.01 M1532.16,266.29h0.01 M1532.91,266.14h0.01 M1532.81,269.13h0.01 M1532.35,265.46h0.01 M1532.82,263.9h0.01 M1532.71,265.35h0.01 M1532.9,260.93h0.01 M1532.68,263.62h0.01 M1532.65,266.2h0.01 M1532.99,263.25h0.01 M1533.98,259.91h0.01 M1533.98,264.38h0.01 M1533.25,260.43h0.01 M1533.43,259.41h0.01 M1533.71,262.35h0.01 M1533.75,261.58h0.01 M1533.87,259.29h0.01 M1534.38,261.19h0.01 M1533.86,257.85h0.01 M1534.54,260.48h0.01 M1534.21,259.49h0.01 M1534.47,258.6h0.01 M1534.07,258.83h0.01 M1534.75,252.83h0.01 M1535.02,258.34h0.01 M1535.25,258.4h0.01 M1534.09,257.43h0.01 M1534.85,255.7h0.01 M1534.99,256.59h0.01 M1534.44,255.47h0.01 M1535.55,256.34h0.01 M1535.09,254.91h0.01 M1535.1,255.55h0.01 M1535.59,251.88h0.01 M1535.81,249.94h0.01 M1535.13,256.1h0.01 M1536.04,255.36h0.01 M1535.7,254.06h0.01 M1535.43,250.61h0.01 M1535.55,254.65h0.01 M1536.42,252.1h0.01 M1536.43,248.89h0.01 M1536.71,251.37h0.01 M1536.58,249.12h0.01 M1536.22,249.53h0.01 M1536.06,251.01h0.01 M1537.04,252.54h0.01 M1536.51,248.21h0.01 M1536.65,249.81h0.01 M1537.07,243.95h0.01 M1536.29,250.28h0.01 M1536.74,245.78h0.01 M1537.38,247.54h0.01 M1537.36,250.32h0.01 M1536.65,245.72h0.01 M1537.31,244.67h0.01 M1536.95,246.16h0.01 M1537.72,246.72h0.01 M1537.67,245.44h0.01 M1537.32,241.7h0.01 M1538.28,244.61h0.01 M1537.9,246.53h0.01 M1537.34,249.24h0.01 M1537.84,244.92h0.01 M1537.7,242.56h0.01 M1538.52,245.74h0.01 M1538.1,242.6h0.01 M1537.97,244.23h0.01 M1538.81,244.32h0.01 M1537.98,242.49h0.01 M1537.98,243.65h0.01 M1538.52,242.16h0.01 M1538.9,237.64h0.01 M1539.12,243.08h0.01 M1539.29,241.51h0.01 M1538.48,240.35h0.01 M1538.72,242.88h0.01 M1539.05,242h0.01 M1539.8,240.19h0.01 M1538.82,240.8h0.01 M1539.84,239.06h0.01 M1539.71,238.26h0.01 M1538.97,238.05h0.01 M1539.81,239.51h0.01 M1540.14,239.27h0.01 M1540.21,242.97h0.01 M1539.8,239.65h0.01 M1539.87,238.87h0.01 M1540.6,238.55h0.01 M1539.75,238.07h0.01 M1539.82,237.34h0.01 M1540.09,237.21h0.01 M1539.89,236.11h0.01 M1541.05,241.33h0.01 M1540.21,235.63h0.01 M1540.34,237.93h0.01 M1541.02,234.27h0.01 M1540.55,236.79h0.01 M1541.07,235.21h0.01 M1541.36,232.18h0.01 M1541.07,233.27h0.01 M1540.96,230.51h0.01 M1540.92,232.65h0.01 M1541.39,237.01h0.01 M1540.9,231.87h0.01 M1542.09,233.38h0.01 M1541.25,231.7h0.01 M1541.18,237.96h0.01 M1541.68,233.81h0.01 M1542.24,232.25h0.01 M1542.23,232.22h0.01 M1542.39,234.32h0.01 M1542.07,231.12h0.01 M1542.36,233.37h0.01 M1542.23,231.95h0.01 M1541.87,229.15h0.01 M1542.3,229.54h0.01 M1542.4,229.1h0.01 M1542.67,231.6h0.01 M1543.13,233.55h0.01 M1543.21,227.65h0.01 M1542.55,230.77h0.01 M1542.35,228.97h0.01 M1543.06,228.32h0.01 M1543.23,226.71h0.01 M1542.8,230.67h0.01 M1543.29,227.41h0.01 M1543.35,232.01h0.01 M1543.35,223.71h0.01 M1543.5,226.64h0.01 M1543.48,226.69h0.01 M1543.98,227.32h0.01 M1544.25,225.87h0.01 M1543.68,228.45h0.01 M1543.48,226.33h0.01 M1544.13,227.5h0.01 M1544.51,224.5h0.01 M1544.33,224.83h0.01 M1544.33,226.58h0.01 M1544.21,223.26h0.01 M1544.78,227.37h0.01 M1544.68,225.52h0.01 M1544.43,225.79h0.01 M1544.72,225.19h0.01 M1544.62,224.69h0.01 M1544.58,226.5h0.01 M1545.34,224.51h0.01 M1545.13,223.15h0.01 M1545.5,219.71h0.01 M1545.59,220.62h0.01 M1544.89,223.94h0.01 M1545.8,221.21h0.01 M1545.81,224.43h0.01 M1545.34,223.64h0.01 M1545.72,225.73h0.01 M1545.1,224.1h0.01 M1545.26,222.01h0.01 M1546.25,222.33h0.01 M1545.72,223.15h0.01 M1546.12,218.55h0.01 M1546.3,222.27h0.01 M1546.03,225.67h0.01 M1546.59,223.74h0.01 M1545.86,217.42h0.01 M1546.95,221.75h0.01 M1546.09,222.28h0.01 M1546.52,220.13h0.01 M1547.09,220.82h0.01 M1546.77,217.85h0.01 M1546.97,220.45h0.01 M1546.74,218.55h0.01 M1546.63,218.61h0.01 M1547.64,218.54h0.01 M1547.15,218.15h0.01 M1547.05,217.99h0.01 M1547.34,219.92h0.01 M1547.12,216.42h0.01 M1548.21,216.55h0.01 M1547.27,215.76h0.01 M1547.39,218.7h0.01 M1547.92,216.69h0.01 M1548.03,215.22h0.01 M1548.38,220.03h0.01 M1548.57,216.7h0.01 M1547.61,215.46h0.01 M1548.06,216.31h0.01 M1548.84,217.51h0.01 M1548.05,218.38h0.01 M1547.94,212.07h0.01 M1549.14,214.7h0.01 M1548.27,216.63h0.01 M1548.09,213.83h0.01 M1549.32,215.32h0.01 M1549.3,217.2h0.01 M1548.77,216.02h0.01 M1548.77,214.81h0.01 M1549.39,216.38h0.01 M1548.96,215.9h0.01 M1549.34,215.25h0.01 M1549.49,214.43h0.01 M1549.07,217.44h0.01 M1549.87,212.9h0.01 M1549.96,213.07h0.01 M1549.54,211.25h0.01 M1550.07,212.73h0.01 M1549.85,216.7h0.01 M1550.35,214.61h0.01 M1550.16,211.54h0.01 M1550.65,212.18h0.01 M1550.39,213.58h0.01 M1551.01,216.11h0.01 M1550.24,214.77h0.01 M1550.04,212.41h0.01 M1550.94,210.3h0.01 M1550.78,214.78h0.01 M1550.21,208.18h0.01 M1550.91,210.9h0.01 M1550.98,213h0.01 M1550.92,209.93h0.01 M1551.29,211.74h0.01 M1550.7,209.94h0.01 M1551.5,209.53h0.01 M1551.91,210.16h0.01 M1551.9,204.94h0.01 M1551.84,209.17h0.01 M1551.99,210.2h0.01 M1551.91,210.56h0.01 M1551.98,208.93h0.01 M1552.03,211.7h0.01 M1551.65,209.02h0.01 M1551.81,207.42h0.01 M1551.73,207.78h0.01 M1552.47,208.85h0.01 M1551.81,208.4h0.01 M1552.35,209.84h0.01 M1552.55,209.55h0.01 M1552.43,209.44h0.01 M1552.35,207.41h0.01 M1552.23,208.58h0.01 M1552.76,212.19h0.01 M1552.98,206.35h0.01 M1552.84,209.69h0.01 M1552.74,208.86h0.01 M1553.75,211.42h0.01 M1553.19,211.08h0.01 M1553.14,207.42h0.01 M1553.1,212.54h0.01 M1553.56,206.09h0.01 M1553.14,207.34h0.01 M1554.31,207.86h0.01 M1554.21,203.89h0.01 M1553.24,206.08h0.01 M1553.65,203.46h0.01 M1553.93,208.41h0.01 M1554.29,206.37h0.01 M1553.83,205.49h0.01 M1554.24,204.9h0.01 M1554.08,208.54h0.01 M1554.49,203.5h0.01 M1554.71,202.66h0.01 M1554.2,207.49h0.01 M1554.79,203.83h0.01 M1554.2,204.52h0.01 M1554.35,204.66h0.01 M1555.31,204.1h0.01 M1555,208.88h0.01 M1555.27,204.04h0.01 M1555.1,207.26h0.01 M1555.54,205.5h0.01 M1555.76,205.15h0.01 M1556.08,205.57h0.01 M1555.79,201.19h0.01 M1555.08,204.77h0.01 M1555.81,202.77h0.01 M1555.35,201.73h0.01 M1555.32,201.16h0.01 M1555.58,200.82h0.01 M1555.42,206.79h0.01 M1555.88,205.49h0.01 M1556.21,206.15h0.01 M1555.98,203.3h0.01 M1556.51,205.03h0.01 M1556.76,203.09h0.01 M1556.12,205.43h0.01 M1556.31,203.56h0.01 M1557.34,205.62h0.01 M1556.64,204.88h0.01 M1557.14,199.94h0.01 M1556.82,203.4h0.01 M1556.7,198.97h0.01 M1556.84,203.46h0.01 M1556.96,201.3h0.01 M1557.06,202.52h0.01 M1557.37,199.48h0.01 M1557.28,200.99h0.01 M1556.97,203.54h0.01 M1557.17,202.05h0.01 M1557.87,201.1h0.01 M1557.91,204.8h0.01 M1557.98,201.21h0.01 M1557.96,198.69h0.01 M1557.81,204.39h0.01 M1558.04,202.48h0.01 M1557.82,203.16h0.01 M1558.45,199.62h0.01 M1558.22,206.29h0.01 M1558.15,206.06h0.01 M1558.39,201.51h0.01 M1558.55,200.48h0.01 M1558.78,200.25h0.01 M1558.7,204.73h0.01 M1558.22,199.99h0.01 M1559.31,199.91h0.01 M1559.5,200.4h0.01 M1559.27,199.53h0.01 M1559.08,197.91h0.01 M1559.08,199.87h0.01 M1558.87,198.97h0.01 M1560.13,198.67h0.01 M1559.02,200.55h0.01 M1559.07,198.99h0.01 M1560.12,195.63h0.01 M1559.83,198.33h0.01 M1559.98,201.59h0.01 M1560.09,200.19h0.01 M1560.63,199.45h0.01 M1560.29,198.73h0.01 M1560.84,195.64h0.01 M1560.4,199.9h0.01 M1560.2,195.76h0.01 M1560.02,198.71h0.01 M1560.35,198.01h0.01 M1560.55,196.59h0.01 M1560.55,196.03h0.01 M1561.13,200.11h0.01 M1561.39,196.52h0.01 M1560.9,197.77h0.01 M1560.56,197.75h0.01 M1561.23,200.22h0.01 M1561.04,197.68h0.01 M1560.96,198.12h0.01 M1561.35,197.16h0.01 M1561.68,201.17h0.01 M1561.41,196.51h0.01 M1561.88,197.27h0.01 M1562.16,194.65h0.01 M1561.58,199.19h0.01 M1561.52,196.94h0.01 M1562.24,197.8h0.01 M1562.28,196.36h0.01 M1562.43,195.57h0.01 M1562.34,194.52h0.01 M1562.28,197.87h0.01 M1562,193.95h0.01 M1562.87,197.74h0.01 M1563.11,197.41h0.01 M1562.98,199.93h0.01 M1563.13,196.79h0.01 M1563.2,195.57h0.01 M1563.35,197.65h0.01 M1563.66,197.32h0.01 M1562.88,198.13h0.01 M1563.05,192.02h0.01 M1562.95,196.01h0.01 M1563.28,198.88h0.01 M1563.16,190.91h0.01 M1563.34,196.57h0.01 M1563.05,196.61h0.01 M1563.49,194.41h0.01 M1564.46,194.54h0.01 M1564.35,195.54h0.01 M1563.58,195.55h0.01 M1563.82,199.1h0.01 M1564.62,193.62h0.01 M1563.8,195.94h0.01 M1564.44,192.35h0.01 M1564.4,193.48h0.01 M1564.15,196.66h0.01 M1564.95,190.01h0.01 M1565.03,195.36h0.01 M1564.29,194.64h0.01 M1564.49,198.01h0.01 M1565.4,192.89h0.01 M1564.97,195.32h0.01 M1564.62,194.92h0.01 M1565.64,193.35h0.01 M1565.69,195.15h0.01 M1565.05,194.81h0.01 M1565.61,192.47h0.01 M1564.94,194.9h0.01 M1565.48,191.85h0.01 M1565.85,191.79h0.01 M1565.21,192.21h0.01 M1566.01,196.83h0.01 M1565.73,193.45h0.01 M1565.52,192.36h0.01 M1565.95,193.47h0.01 M1566.22,191.1h0.01 M1565.92,193.6h0.01 M1566.41,192.76h0.01 M1566.75,190.26h0.01 M1566.41,193.27h0.01 M1567.1,192.99h0.01 M1566.66,190.37h0.01 M1567.1,193.78h0.01 M1566.78,190.7h0.01 M1566.35,193.4h0.01 M1566.99,189.62h0.01 M1567.13,192.03h0.01 M1567.15,191.44h0.01 M1567.77,190.47h0.01 M1566.98,192.33h0.01 M1567.8,190.58h0.01 M1567.15,193.7h0.01 M1568.1,192.47h0.01 M1568.11,195.29h0.01 M1567.16,187.39h0.01 M1567.8,193.71h0.01 M1567.89,193.17h0.01 M1568.24,193.19h0.01 M1568.42,183.75h0.01 M1568.65,190.09h0.01 M1568.67,190.63h0.01 M1567.97,193.9h0.01 M1568.19,192.6h0.01 M1568.65,192.02h0.01 M1568.97,190.71h0.01 M1568.16,185.76h0.01 M1568.37,190.15h0.01 M1569.21,190.15h0.01 M1569.29,187.48h0.01 M1569.2,191.56h0.01 M1569.26,190.18h0.01 M1569.78,190.61h0.01 M1568.77,192.66h0.01 M1569.89,187.57h0.01 M1569.68,190.68h0.01 M1569.04,189.38h0.01 M1570.16,186.11h0.01 M1569.47,189.78h0.01 M1570.21,190.86h0.01 M1569.91,187.6h0.01 M1570.22,191.02h0.01 M1569.76,187.71h0.01 M1570.57,192.2h0.01 M1569.99,193.38h0.01 M1570.51,191.32h0.01 M1570.6,184.91h0.01 M1570.41,191.93h0.01 M1570.15,190.59h0.01 M1570.86,189.99h0.01 M1570.58,191.63h0.01 M1570.69,187.95h0.01 M1571.19,186.48h0.01 M1570.99,187.05h0.01 M1571.03,184.94h0.01 M1570.88,188.73h0.01 M1571.59,187.36h0.01 M1570.74,192.23h0.01 M1571.49,185.38h0.01 M1571.15,189.44h0.01 M1571.22,190.06h0.01 M1571.85,190.05h0.01 M1571.16,188.73h0.01 M1572.31,189.35h0.01 M1571.96,186.45h0.01 M1572.21,187.31h0.01 M1572.39,187.92h0.01 M1572.2,187.69h0.01 M1572.25,191.18h0.01 M1572.05,188.76h0.01 M1572.27,185.74h0.01 M1572.52,185.73h0.01 M1572.95,185.79h0.01 M1572.25,187.22h0.01 M1572.84,185.81h0.01 M1572.59,189.31h0.01 M1572.44,188.4h0.01 M1572.54,187.53h0.01 M1573.45,185.97h0.01 M1573.54,186.37h0.01 M1573.45,190.17h0.01 M1572.96,188.35h0.01 M1574.13,187.94h0.01 M1573.24,188.19h0.01 M1573.97,188.01h0.01 M1573.37,184.35h0.01 M1573.71,186.53h0.01 M1574.3,186.08h0.01 M1574.46,189.39h0.01 M1574.19,185.28h0.01 M1574.62,186.39h0.01 M1573.85,188.1h0.01 M1573.92,186.67h0.01 M1574.59,185.55h0.01 M1574.43,188.66h0.01 M1574.78,183.89h0.01 M1574.97,187.75h0.01 M1574.65,186.48h0.01 M1574.72,184.1h0.01 M1575.1,182.46h0.01 M1575.58,185.28h0.01 M1575.07,184.13h0.01 M1575.36,186.67h0.01 M1575.14,183.98h0.01 M1575.45,186.3h0.01 M1574.72,189.85h0.01 M1575.75,184.27h0.01 M1575.65,185.7h0.01 M1575.54,189.62h0.01 M1575.93,184.44h0.01 M1576.27,186.32h0.01 M1576.22,184.62h0.01 M1576.48,188.63h0.01 M1575.95,185.07h0.01 M1575.73,184.47h0.01 M1576.64,183.98h0.01 M1576.42,185.97h0.01 M1576.1,183.44h0.01 M1577.07,183.93h0.01 M1576.66,183.29h0.01 M1576.51,183.45h0.01 M1576.58,182.91h0.01 M1577.42,187.33h0.01 M1576.57,182.57h0.01 M1576.73,184.2h0.01 M1577.28,180.95h0.01 M1576.75,184.19h0.01 M1577.2,182.1h0.01 M1577.45,181.74h0.01 M1577.65,185.4h0.01 M1578.18,186.33h0.01 M1578.14,186.01h0.01 M1577.79,180.9h0.01 M1577.29,182.31h0.01 M1578.21,182.29h0.01 M1577.63,182.33h0.01 M1578.25,185.76h0.01 M1577.82,185.77h0.01 M1578.63,184.8h0.01 M1578.67,181.76h0.01 M1578.23,182.71h0.01 M1578.79,183.71h0.01 M1578.93,183.79h0.01 M1579,182.91h0.01 M1578.03,181.62h0.01 M1578.34,182.68h0.01 M1578.78,185.72h0.01 M1578.65,181.77h0.01 M1579.5,180.83h0.01 M1579.01,186.81h0.01 M1578.62,184.21h0.01 M1579.08,183.17h0.01 M1579.71,185.19h0.01 M1579.81,184.97h0.01 M1579.74,181.22h0.01 M1580.02,185.91h0.01 M1579.73,181.93h0.01 M1579.78,181.76h0.01 M1580.48,183.14h0.01 M1579.52,183h0.01 M1579.81,183.24h0.01 M1579.75,181.59h0.01 M1580.46,185.57h0.01 M1580.34,187.55h0.01 M1580.87,183.32h0.01 M1580.74,181.51h0.01 M1580.55,182.71h0.01 M1580.89,183.21h0.01 M1580.72,181.37h0.01 M1580.54,186.04h0.01 M1580.84,184.05h0.01 M1581.37,183.44h0.01 M1581.16,183.17h0.01 M1581.33,183.54h0.01 M1580.89,182.87h0.01 M1581.85,181.74h0.01 M1581.56,183.02h0.01 M1580.89,180.52h0.01 M1581.27,181.74h0.01 M1581.2,181.74h0.01 M1582,184.9h0.01 M1582.32,179.2h0.01 M1581.99,184.12h0.01 M1581.99,179.75h0.01 M1582.08,182.65h0.01 M1581.87,181.93h0.01 M1582.13,185.64h0.01 M1582.52,185.33h0.01 M1582.72,182.79h0.01 M1582.89,180.77h0.01 M1583.23,181.42h0.01 M1583.04,182.57h0.01 M1583.15,182.15h0.01 M1583.06,179.45h0.01 M1582.47,181.61h0.01 M1583.23,183.48h0.01 M1582.7,181.72h0.01 M1583.75,181.06h0.01 M1582.87,182.83h0.01 M1583.99,177.8h0.01 M1583.41,180.62h0.01 M1583.84,179.57h0.01 M1583.23,183.02h0.01 M1583.17,179.24h0.01 M1584.23,180.72h0.01 M1583.66,181.58h0.01 M1583.38,180.28h0.01 M1584.54,183.98h0.01 M1584.36,183.03h0.01 M1584.46,177.82h0.01 M1584.07,180.76h0.01 M1584.52,181.81h0.01 M1584.1,180.54h0.01 M1584.56,178.89h0.01 M1584.77,179.72h0.01 M1584.42,179.69h0.01 M1584.94,181.21h0.01 M1585.53,183.31h0.01 M1584.83,183.08h0.01 M1585.5,179.74h0.01 M1585.25,180.33h0.01 M1584.86,177.25h0.01 M1585.24,178.33h0.01 M1585.67,179.07h0.01 M1585.97,181.18h0.01 M1585.05,176.64h0.01 M1585.97,176.75h0.01 M1585.13,176.65h0.01 M1585.34,181.95h0.01 M1586.23,179.62h0.01 M1586.09,178.2h0.01 M1586.06,181.2h0.01 M1586.82,176.34h0.01 M1586,179.06h0.01 M1586.49,177.19h0.01 M1586.95,177.67h0.01 M1585.99,182.37h0.01 M1586.2,179.12h0.01 M1586.7,180.75h0.01 M1587.15,180.39h0.01 M1587,180.36h0.01 M1586.53,178.56h0.01 M1586.86,176.3h0.01 M1586.76,179.53h0.01 M1587.54,177.91h0.01 M1587.6,178.5h0.01 M1586.74,178.25h0.01 M1586.96,178.51h0.01 M1587.48,176.48h0.01 M1587.36,178.87h0.01 M1588.28,179.35h0.01 M1587.17,177.97h0.01 M1588.31,178.3h0.01 M1587.63,179.49h0.01 M1588.26,179.85h0.01 M1588.23,180.72h0.01 M1588.09,176.1h0.01 M1588.62,174.87h0.01 M1588.42,177.66h0.01 M1588.69,177.54h0.01 M1588.7,176.78h0.01 M1588.83,177.56h0.01 M1588.42,177.39h0.01 M1588.22,173.26h0.01 M1588.48,179.48h0.01 M1589.41,178.47h0.01 M1589.13,181.1h0.01 M1588.44,179.74h0.01 M1589.71,176.97h0.01 M1589.76,182.73h0.01 M1588.85,177.49h0.01 M1589.85,178.98h0.01 M1589.05,179.21h0.01 M1589.97,178.77h0.01 M1589.49,177.25h0.01 M1589.86,180.16h0.01 M1589.69,179.94h0.01 M1590.02,177.51h0.01 M1590.48,178.16h0.01 M1590.45,179.34h0.01 M1590.08,180.89h0.01 M1590.15,175.66h0.01 M1590.1,181.27h0.01 M1590.49,180.31h0.01 M1590.37,178.53h0.01 M1591,179.17h0.01 M1590.37,175.15h0.01 M1590.83,176.84h0.01 M1590.81,176.74h0.01 M1591.45,178.46h0.01 M1591.54,176.28h0.01 M1591.56,177.09h0.01 M1590.96,178.91h0.01 M1591.72,180.04h0.01 M1591.4,181.86h0.01 M1591.16,181.01h0.01 M1591.38,181.01h0.01 M1591.88,177.21h0.01 M1591.32,178.57h0.01 M1591.24,175.75h0.01 M1592.17,177.93h0.01 M1592.02,177h0.01 M1592.56,176.42h0.01 M1592.41,178.74h0.01 M1592.26,181.1h0.01 M1592.76,177.11h0.01 M1592.58,178.2h0.01 M1592.68,179.93h0.01 M1592.57,175.5h0.01 M1592.23,176.37h0.01 M1593.34,176.33h0.01 M1593.41,177.66h0.01 M1592.85,176.14h0.01 M1592.67,175.23h0.01 M1592.89,177.66h0.01 M1593.59,175.47h0.01 M1593.12,177.76h0.01 M1593.28,176h0.01 M1592.9,178.21h0.01 M1593.44,178.61h0.01 M1593.65,177.02h0.01 M1593.39,178.35h0.01 M1594.34,178.37h0.01 M1594.28,177.57h0.01 M1593.94,176.31h0.01 M1593.64,183.32h0.01 M1593.68,178.6h0.01 M1594.54,176.69h0.01 M1594.1,175.57h0.01 M1593.86,179.85h0.01 M1593.79,175.92h0.01 M1594.65,175.53h0.01 M1594.19,173.13h0.01 M1594.56,173.94h0.01 M1594.6,173.95h0.01 M1594.34,174h0.01 M1594.56,174.47h0.01 M1594.86,177.74h0.01 M1595.32,175.93h0.01 M1594.95,180.41h0.01 M1595.05,176.89h0.01 M1595.04,176.47h0.01 M1595.84,174.1h0.01 M1596.19,176.97h0.01 M1596.2,176.03h0.01 M1595.43,174.41h0.01 M1595.9,175.69h0.01 M1595.55,177.63h0.01 M1595.58,175.78h0.01 M1596.08,172.97h0.01 M1596.11,173.4h0.01 M1595.57,173.71h0.01 M1596.81,173.82h0.01 M1596.95,176.03h0.01 M1596.71,175.34h0.01 M1596.58,175.87h0.01 M1596.58,174.87h0.01 M1596.74,176.15h0.01 M1596.61,175.6h0.01 M1596.66,172.97h0.01 M1597.3,174.62h0.01 M1596.9,175.59h0.01 M1596.62,171.37h0.01 M1597.69,177.2h0.01 M1597.6,176.07h0.01 M1597.06,176.45h0.01 M1597.26,174.96h0.01 M1597.66,174.82h0.01 M1597.58,173.16h0.01 M1597.54,171.96h0.01 M1598.05,174.75h0.01 M1598.08,177.23h0.01 M1597.38,172.7h0.01 M1597.8,174.75h0.01 M1597.87,175.79h0.01 M1597.81,173.3h0.01 M1598.17,172.87h0.01 M1598.25,174.6h0.01 M1598.22,175.36h0.01 M1598.8,177.1h0.01 M1598.19,173.34h0.01 M1599.26,173.86h0.01 M1599.46,176.79h0.01 M1598.75,176.96h0.01 M1598.47,177.8h0.01 M1599.54,171.52h0.01 M1599.36,177.13h0.01 M1599.4,174.25h0.01 M1599.63,177.01h0.01 M1599.21,171.47h0.01 M1599.1,171.96h0.01 M1599.52,173.67h0.01 M1600.13,176.2h0.01 M1599.74,171.95h0.01 M1600.19,175.57h0.01 M1599.51,177.76h0.01 M1600.44,173.2h0.01 M1599.84,173.11h0.01 M1600.33,171.24h0.01 M1599.73,174.95h0.01 M1600.91,172.23h0.01 M1600.75,175.1h0.01 M1600.59,172.6h0.01 M1600.68,174.65h0.01 M1600.15,173.94h0.01 M1600.26,177.82h0.01 M1600.47,175.12h0.01 M1601.01,172.42h0.01 M1601.07,173.65h0.01 M1601.55,172.2h0.01 M1600.62,174.9h0.01 M1601.37,172.5h0.01 M1601.24,173.82h0.01 M1601.6,171.88h0.01 M1601.26,175.54h0.01 M1601.37,170.73h0.01 M1602.04,175.12h0.01 M1601.36,173.22h0.01 M1602.5,174.69h0.01 M1602.32,173.42h0.01 M1602.5,173.37h0.01 M1602,177.05h0.01 M1602.58,171.32h0.01 M1601.79,173.46h0.01 M1602.68,172.99h0.01 M1601.95,171.92h0.01 M1602,173.09h0.01 M1603.04,180.15h0.01 M1603.22,173.41h0.01 M1602.61,172.34h0.01 M1603.54,177.01h0.01 M1603.39,168.38h0.01 M1603.26,173.7h0.01 M1603.17,168.82h0.01 M1602.7,173.12h0.01 M1602.98,173.55h0.01 M1603.62,172.93h0.01 M1603.02,174.66h0.01 M1603.34,170.51h0.01 M1604.3,172.82h0.01 M1603.25,173.06h0.01 M1604.28,173.89h0.01 M1604.18,170.98h0.01 M1603.42,169.95h0.01 M1604.5,171.61h0.01 M1604.16,175.37h0.01 M1604.57,172.41h0.01 M1603.97,174.45h0.01 M1604.8,171.73h0.01 M1604.35,173.16h0.01 M1604.61,170.98h0.01 M1605.19,174.69h0.01 M1604.95,173.31h0.01 M1605.22,171.15h0.01 M1605.56,172.26h0.01 M1604.54,172.61h0.01 M1605.34,174.85h0.01 M1605.3,170.23h0.01 M1605.34,174.63h0.01 M1605.89,174.41h0.01 M1605.19,169.53h0.01 M1605.72,170.04h0.01 M1605.36,172.78h0.01 M1606.31,175.69h0.01 M1606.25,169.77h0.01 M1606.17,174.39h0.01 M1605.9,172.45h0.01 M1605.69,170.4h0.01 M1605.45,171.85h0.01 M1605.76,169h0.01 M1605.78,171.73h0.01 M1606.58,173.54h0.01 M1606.19,170.05h0.01 M1606.38,170.94h0.01 M1606.98,170.01h0.01 M1607.01,173.07h0.01 M1606.7,174.08h0.01 M1607.11,176.7h0.01 M1607.12,169.3h0.01 M1606.82,172.14h0.01 M1606.55,167.95h0.01 M1606.84,170.8h0.01 M1607.9,166.97h0.01 M1607.64,177.11h0.01 M1607.3,172.89h0.01 M1608.15,176h0.01 M1607.94,169.76h0.01 M1608.17,170.58h0.01 M1608.22,172.68h0.01 M1608.22,170.42h0.01 M1608.63,171.53h0.01 M1607.71,171.65h0.01 M1608.26,167.79h0.01 M1608.51,173.73h0.01 M1608.58,173.11h0.01 M1608.59,173.68h0.01 M1609.09,172.9h0.01 M1608.59,170.72h0.01 M1609.16,172.27h0.01 M1608.46,171.96h0.01 M1609.12,170.12h0.01 M1609.24,174.34h0.01 M1609.47,174.44h0.01 M1609.46,172.23h0.01 M1609.34,173.9h0.01 M1609.49,168.62h0.01 M1609.79,170.48h0.01 M1609.09,171.14h0.01 M1610.13,170.16h0.01 M1610.05,173.27h0.01 M1609.83,171.9h0.01 M1609.87,169.08h0.01 M1609.35,171.62h0.01 M1609.9,172.37h0.01 M1610.15,173.74h0.01 M1609.64,172.43h0.01 M1609.98,173.43h0.01 M1609.94,171.49h0.01 M1610.9,168.68h0.01 M1610.3,173.98h0.01 M1610.41,171.9h0.01 M1610.64,169.69h0.01 M1610.79,174.16h0.01 M1610.34,170.86h0.01 M1610.82,174.73h0.01 M1610.72,169.81h0.01 M1610.68,170.5h0.01 M1610.75,174.24h0.01 M1611.6,170.6h0.01 M1611.62,173.88h0.01 M1611.07,168.04h0.01 M1611.11,170.5h0.01 M1611.68,167.27h0.01 M1611.38,167.15h0.01 M1611.25,168.07h0.01 M1611.88,170.57h0.01 M1612.39,171.4h0.01 M1611.86,172.97h0.01 M1611.78,168.52h0.01 M1612,171.24h0.01 M1612.47,175.88h0.01 M1612.06,170.1h0.01 M1612.25,171.35h0.01 M1611.91,170.29h0.01 M1612.13,172.78h0.01 M1612.57,169.89h0.01 M1612.17,175.19h0.01 M1613.13,166.23h0.01 M1613.4,168.85h0.01 M1612.52,169.7h0.01 M1612.93,171.48h0.01 M1612.62,171.9h0.01 M1612.61,173.45h0.01 M1613.79,167.95h0.01 M1613.24,167.9h0.01 M1613.76,171.05h0.01 M1613.43,167.7h0.01 M1614.08,170.02h0.01 M1613.49,172.25h0.01 M1614.38,170.19h0.01 M1613.53,169.4h0.01 M1613.65,169.39h0.01 M1614.33,171.84h0.01 M1614.28,171.4h0.01 M1614.04,170.23h0.01 M1614.17,166.14h0.01 M1614.74,170.11h0.01 M1614.54,167.32h0.01 M1614.77,169.75h0.01 M1614.41,166.89h0.01 M1614.87,169.4h0.01 M1615.42,167.72h0.01 M1614.72,167.42h0.01 M1615.06,169.06h0.01 M1614.81,169.33h0.01 M1615.23,168.95h0.01 M1615.14,168.48h0.01 M1616.03,166.03h0.01 M1615.12,171.66h0.01 M1615.45,168.54h0.01 M1615.15,170.6h0.01 M1615.43,168.57h0.01 M1615.47,169.85h0.01 M1615.7,171.26h0.01 M1616,167.48h0.01 M1616.48,172.21h0.01 M1616.73,167.41h0.01 M1616.49,171.69h0.01 M1616.48,168.5h0.01 M1616.77,170.26h0.01 M1616.65,167.73h0.01 M1615.94,171.87h0.01 M1617.06,173.69h0.01 M1616.25,166.26h0.01 M1616.95,169.64h0.01 M1617.1,168.28h0.01 M1616.6,169.45h0.01 M1616.71,169.83h0.01 M1617.65,166.24h0.01 M1617.79,167.45h0.01 M1616.81,171.74h0.01 M1617.66,165.75h0.01 M1617.28,170.2h0.01 M1617.33,171.15h0.01 M1617.45,167.87h0.01 M1617.44,166.64h0.01 M1617.34,166.02h0.01 M1618.19,169.13h0.01 M1618.16,171.79h0.01 M1617.92,167.08h0.01 M1618.54,168.11h0.01 M1617.84,167.47h0.01 M1618.09,168.38h0.01 M1618.26,165.71h0.01 M1618.55,171.39h0.01 M1618.43,170.21h0.01 M1619.07,169.34h0.01 M1619.31,168.42h0.01 M1618.36,174.58h0.01 M1618.67,167.55h0.01 M1618.75,171.54h0.01 M1619.31,172.33h0.01 M1619.82,169.46h0.01 M1619.59,167.03h0.01 M1619.09,167.79h0.01 M1619.75,170.58h0.01 M1619.29,166.33h0.01 M1619.87,167.78h0.01 M1619.73,166.44h0.01 M1619.72,169.89h0.01 M1620.04,169.65h0.01 M1619.47,169.39h0.01 M1619.92,170.18h0.01 M1620.18,166.41h0.01 M1620.8,169.27h0.01 M1619.94,167.05h0.01 M1620.32,168.9h0.01 M1620.02,171.16h0.01 M1620.4,168.22h0.01 M1620.11,166.98h0.01 M1621.08,169.93h0.01 M1620.92,172.47h0.01 M1621.25,166.16h0.01 M1620.75,167.9h0.01 M1620.51,169.72h0.01 M1620.53,167.97h0.01 M1621.81,165.74h0.01 M1621.79,167.7h0.01 M1621.57,168.22h0.01 M1621.73,169.88h0.01 M1621.76,168.49h0.01 M1621.55,169.75h0.01 M1621.27,169.18h0.01 M1621.38,165.44h0.01 M1621.89,167.47h0.01 M1621.97,167.66h0.01 M1622.4,165.04h0.01 M1621.73,169.03h0.01 M1622.9,166.82h0.01 M1621.72,165.85h0.01 M1622.13,170.23h0.01 M1622.17,168.05h0.01 M1622.25,167.63h0.01 M1622.3,169.07h0.01 M1622.82,169.66h0.01 M1623.35,169.87h0.01 M1623.08,168.88h0.01 M1623.26,167.63h0.01 M1622.76,170.05h0.01 M1623.33,166.97h0.01 M1623.65,168.46h0.01 M1623.69,168.52h0.01 M1623.7,167.43h0.01 M1623.01,167.97h0.01 M1623.94,167.13h0.01 M1623.79,165.96h0.01 M1624.2,171.03h0.01 M1624.4,167.88h0.01 M1624.27,169.34h0.01 M1624.21,166.24h0.01 M1623.62,168.45h0.01 M1623.97,164.84h0.01 M1623.8,168.49h0.01 M1624.84,169.44h0.01 M1624.3,168.47h0.01 M1624.3,166.6h0.01 M1624.28,166.73h0.01 M1624.43,171.02h0.01 M1624.63,166.59h0.01 M1625.3,165.53h0.01 M1625.08,168.54h0.01 M1624.97,165.61h0.01 M1625.04,172.23h0.01 M1625.18,167.07h0.01 M1625.35,170.94h0.01 M1625.49,169.12h0.01 M1625.25,168.51h0.01 M1625.86,169.29h0.01 M1625.33,167.1h0.01 M1625.6,169.72h0.01 M1625.27,169.06h0.01 M1626.11,168.02h0.01 M1625.72,168.76h0.01 M1625.75,167.37h0.01 M1626.43,168h0.01 M1625.86,172.8h0.01 M1625.99,169.48h0.01 M1626.39,167.44h0.01 M1626.71,165.94h0.01 M1626.09,164.93h0.01 M1627.14,167.13h0.01 M1626.23,168.57h0.01 M1626.98,166.08h0.01 M1626.59,165.62h0.01 M1626.29,164.44h0.01 M1626.68,165.25h0.01 M1626.82,167.04h0.01 M1626.7,163.86h0.01 M1627.97,166.29h0.01 M1627.17,163.85h0.01 M1627.95,164.29h0.01 M1628.22,167.91h0.01 M1628.04,167.37h0.01 M1627.29,167.84h0.01 M1627.44,168.72h0.01 M1627.87,165.19h0.01 M1627.74,164.7h0.01 M1628.42,166.83h0.01 M1628.05,169.38h0.01 M1628.59,163.92h0.01 M1628.7,167.71h0.01 M1628.81,168.58h0.01 M1628.23,165.5h0.01 M1629.05,166.08h0.01 M1628.46,164.3h0.01 M1628.16,169.5h0.01 M1628.32,164.7h0.01 M1628.45,167.62h0.01 M1628.78,167.13h0.01 M1629.67,162.46h0.01 M1629.52,168.28h0.01 M1629.1,167.43h0.01 M1628.85,166.83h0.01 M1629.75,164.94h0.01 M1629.63,166.33h0.01 M1629.61,168.29h0.01 M1629.31,168.56h0.01 M1629.35,166.62h0.01 M1629.63,167.18h0.01 M1629.82,163.21h0.01 M1629.36,166.55h0.01 M1629.7,164.81h0.01 M1630.48,167.64h0.01 M1630.23,165.5h0.01 M1630.9,164.48h0.01 M1630.02,166.08h0.01 M1629.87,169.16h0.01 M1630.31,163.96h0.01 M1630.86,167.44h0.01 M1630.54,169.36h0.01 M1631.18,165.4h0.01 M1631.03,166.03h0.01 M1631.13,166.73h0.01 M1630.92,166.32h0.01 M1631.46,168.31h0.01 M1631.63,165.85h0.01 M1631.7,165.8h0.01 M1631.86,168.26h0.01 M1631.43,162.91h0.01 M1631.28,165.93h0.01 M1631.66,163.49h0.01 M1631.94,165.73h0.01 M1631.68,163.81h0.01 M1631.48,166.37h0.01 M1632.3,168.49h0.01 M1632.1,165.31h0.01 M1632.06,164.12h0.01 M1631.94,166.51h0.01 M1633,164.98h0.01 M1632.66,166.94h0.01 M1631.87,164.36h0.01 M1633.1,167.9h0.01 M1632.48,170.82h0.01 M1632.13,167.54h0.01 M1632.88,159.91h0.01 M1632.8,165.38h0.01 M1632.66,165.38h0.01 M1632.8,167.65h0.01 M1633.71,162.51h0.01 M1632.96,165.48h0.01 M1633.68,166.94h0.01 M1634.03,164.95h0.01 M1633.22,164.75h0.01 M1633.69,160.98h0.01 M1634.25,163.96h0.01 M1634.25,166.97h0.01 M1634.11,166.69h0.01 M1634.03,165.98h0.01 M1633.8,169.04h0.01 M1634.04,166.86h0.01 M1634.73,164.71h0.01 M1634.15,166.51h0.01 M1634.89,167.63h0.01 M1634.2,164.06h0.01 M1634.53,165.36h0.01 M1634.16,167.35h0.01 M1634.17,168.58h0.01 M1634.44,164.06h0.01 M1635.14,169.05h0.01 M1635.14,166.37h0.01 M1635.27,163.48h0.01 M1635.64,166.28h0.01 M1635.04,166.24h0.01 M1635.76,165.83h0.01 M1635.25,167.7h0.01 M1635.07,166.32h0.01 M1635.43,165.53h0.01 M1635.67,163.83h0.01 M1636.29,168.01h0.01 M1635.21,162.32h0.01 M1636.59,164.16h0.01 M1636.6,164.8h0.01 M1635.57,165.72h0.01 M1635.77,165.13h0.01 M1636.24,163.12h0.01 M1636.66,163.5h0.01 M1636.06,164.86h0.01 M1637.08,163.39h0.01 M1636.68,164.74h0.01 M1637.28,164.09h0.01 M1636.53,165.62h0.01 M1637.12,167.1h0.01 M1636.83,162.36h0.01 M1636.73,165.53h0.01 M1636.58,162.41h0.01 M1637.51,166.74h0.01 M1636.95,162.9h0.01 M1637.54,161.81h0.01 M1637.17,170.56h0.01 M1637.8,166.47h0.01 M1637.27,164.8h0.01 M1637.96,162.26h0.01 M1637.63,163.93h0.01 M1637.66,163.18h0.01 M1637.84,164.51h0.01 M1637.8,160.89h0.01 M1637.54,164.8h0.01 M1638.14,168.16h0.01 M1637.72,165.99h0.01 M1637.79,163.03h0.01 M1638.86,160.88h0.01 M1638.96,164.57h0.01 M1638.95,166.21h0.01 M1639.19,163.38h0.01 M1638.81,163.9h0.01 M1638.97,163.57h0.01 M1638.56,165.47h0.01 M1639.15,163.7h0.01 M1639.48,166.5h0.01 M1639.23,161.14h0.01 M1638.81,166.32h0.01 M1639.76,164.46h0.01 M1639.47,162.24h0.01 M1639.63,165.48h0.01 M1639.91,163.54h0.01 M1639.87,163.9h0.01 M1639.35,165.28h0.01 M1639.67,163.54h0.01 M1640.19,162.17h0.01 M1640.44,168.04h0.01 M1639.89,161.53h0.01 M1640.35,165.85h0.01 M1640.5,163.1h0.01 M1640.45,166.66h0.01 M1641.07,162.26h0.01 M1640.25,167.28h0.01 M1640.34,164.91h0.01 M1640.36,168.92h0.01 M1640.59,161.26h0.01 M1641.04,164.97h0.01 M1640.65,161.84h0.01 M1640.67,166.33h0.01 M1640.65,164.33h0.01 M1640.85,164.22h0.01 M1640.98,165.21h0.01 M1641.27,162.67h0.01 M1641.66,164.66h0.01 M1641.24,163.85h0.01 M1641.49,163.55h0.01 M1641.79,163.34h0.01 M1641.95,165.82h0.01 M1641.34,164.89h0.01 M1642.61,165.31h0.01 M1642.25,164.21h0.01 M1641.79,162.5h0.01 M1642.96,163.26h0.01 M1642.45,163.33h0.01 M1642.35,165.09h0.01 M1642.95,163.38h0.01 M1642.65,160.99h0.01 M1643.15,162.01h0.01 M1643.43,165.48h0.01 M1643.23,160.49h0.01 M1643.21,164.59h0.01 M1642.89,161.24h0.01 M1642.98,165.94h0.01 M1642.95,163.18h0.01 M1643.1,163.73h0.01 M1643.97,163.94h0.01 M1642.79,167.54h0.01 M1643.41,162.15h0.01 M1644.17,163.7h0.01 M1644.19,163.55h0.01 M1644.4,164.87h0.01 M1644.25,163.14h0.01 M1643.31,163.75h0.01 M1644.38,162.9h0.01 M1643.95,161.73h0.01 M1643.88,162.35h0.01 M1644.54,165.25h0.01 M1644.3,163h0.01 M1644.6,164.96h0.01 M1645.18,165.09h0.01 M1644.83,166.85h0.01 M1644.34,166.21h0.01 M1644.49,166.52h0.01 M1644.45,166.76h0.01 M1644.77,165.64h0.01 M1644.57,163.15h0.01 M1645.14,165.99h0.01 M1644.74,165.41h0.01 M1645.15,161.06h0.01 M1645.2,163.57h0.01 M1645.55,163.99h0.01 M1645.4,161.51h0.01 M1645.46,160.3h0.01 M1645.42,162.03h0.01 M1645.38,165.2h0.01 M1645.8,163.12h0.01 M1646.33,164.39h0.01 M1646.42,162.68h0.01 M1646.45,163.51h0.01 M1646.04,165.58h0.01 M1646.12,161.46h0.01 M1646.74,161.84h0.01 M1646.79,162.39h0.01 M1646.49,163.74h0.01 M1646.83,163.84h0.01 M1646.42,163.71h0.01 M1647.27,163.86h0.01 M1646.68,166.01h0.01 M1647.33,160.05h0.01 M1646.87,165.91h0.01 M1647.61,162.31h0.01 M1647.69,162.49h0.01 M1647.93,165.02h0.01 M1647.2,163.7h0.01 M1647.52,163.58h0.01 M1647.47,163.48h0.01 M1647.58,163.11h0.01 M1647.96,160.25h0.01 M1648.14,160.81h0.01 M1648.41,167.07h0.01 M1648.08,162.37h0.01 M1648.09,161.75h0.01 M1647.92,162.86h0.01 M1648.24,161.3h0.01 M1647.97,163.84h0.01 M1649.05,161.96h0.01 M1648.29,165.08h0.01 M1648.79,163.94h0.01 M1648.85,158.42h0.01 M1649.25,161.54h0.01 M1648.78,164.69h0.01 M1649.53,164h0.01 M1649.3,164.04h0.01 M1648.92,164.73h0.01 M1649.19,163.74h0.01 M1649.18,163.17h0.01 M1649.23,164.77h0.01 M1649.09,161.5h0.01 M1649.11,162.87h0.01 M1650.25,164.37h0.01 M1649.77,161.61h0.01 M1649.25,165.28h0.01 M1650.53,163.14h0.01 M1649.49,159.45h0.01 M1649.4,163.85h0.01 M1650.35,162.57h0.01 M1650.63,166.16h0.01 M1650.71,162.98h0.01 M1650.69,161.94h0.01 M1650.57,162.35h0.01 M1650.47,164.05h0.01 M1650.66,158.61h0.01 M1650.43,165.47h0.01 M1651.18,164.61h0.01 M1650.94,165.12h0.01 M1650.88,161.64h0.01 M1650.67,162.85h0.01 M1651.16,164.04h0.01 M1651.49,166.27h0.01 M1651.42,162.26h0.01 M1650.93,161.5h0.01 M1651.01,164.35h0.01 M1652.08,161.08h0.01 M1651.56,160.41h0.01 M1652.19,164.5h0.01 M1651.68,160.72h0.01 M1651.71,162.74h0.01 M1652.51,164.32h0.01 M1651.59,161.34h0.01 M1652.72,159.28h0.01 M1652.18,163.25h0.01 M1651.77,162.49h0.01 M1653.06,161.53h0.01 M1652.14,162.38h0.01 M1652.2,162.61h0.01 M1652.97,163.26h0.01 M1652.26,162.97h0.01 M1652.2,161.01h0.01 M1653.34,162.26h0.01 M1653.25,157.81h0.01 M1653.6,162.26h0.01 M1653.06,162.84h0.01 M1652.92,159.32h0.01 M1653.64,165.28h0.01 M1654.03,162.98h0.01 M1653.73,161.37h0.01 M1653.44,159.55h0.01 M1653.33,161.04h0.01 M1654.18,163.49h0.01 M1654.26,164.05h0.01 M1654.53,161.91h0.01 M1654.54,164.75h0.01 M1653.57,162.57h0.01 M1653.81,159.29h0.01 M1653.92,163.31h0.01 M1654.1,159.72h0.01 M1654.11,162.43h0.01 M1654.17,163.93h0.01 M1655.15,162.33h0.01 M1654.44,162.23h0.01 M1655.25,159.25h0.01 M1655.18,163.8h0.01 M1655.47,162.78h0.01 M1655.25,162.42h0.01 M1655.48,161.7h0.01 M1655.2,162.69h0.01 M1655.15,159.5h0.01 M1655.36,166.69h0.01 M1656.03,162.78h0.01 M1655.76,160.06h0.01 M1655.51,159.43h0.01 M1655.53,158.59h0.01 M1656.28,157.37h0.01 M1656.19,162.88h0.01 M1655.82,163.45h0.01 M1656.17,164.22h0.01 M1656.19,160.34h0.01 M1656.25,162.63h0.01 M1656.92,163.33h0.01 M1656.83,160.17h0.01 M1656.27,159.4h0.01 M1656.02,162.27h0.01 M1656.24,161.95h0.01 M1657.43,160.61h0.01 M1656.36,161.2h0.01 M1656.27,162.93h0.01 M1656.91,161.91h0.01 M1656.69,162.2h0.01 M1656.66,164.6h0.01 M1656.92,162.01h0.01 M1657.51,160.18h0.01 M1657.1,161.69h0.01 M1657.34,161.48h0.01 M1658.05,161h0.01 M1657.27,164.49h0.01 M1657.39,159.75h0.01 M1657.31,162.73h0.01 M1657.9,160.04h0.01 M1658.43,162.56h0.01 M1658.59,160.25h0.01 M1658.44,162.62h0.01 M1658.68,158.89h0.01 M1658.18,161.44h0.01 M1658.64,158.16h0.01 M1658.39,159.74h0.01 M1658.11,163.38h0.01 M1658.99,159.63h0.01 M1659.18,161.83h0.01 M1659.32,159.7h0.01 M1659.02,160.56h0.01 M1658.65,162.21h0.01 M1658.81,160.78h0.01 M1659.28,163.16h0.01 M1659.94,158.78h0.01 M1658.8,160.36h0.01 M1659.63,158.12h0.01 M1659.46,160.73h0.01 M1659.82,158h0.01 M1659.56,161.22h0.01 M1660.29,163.11h0.01 M1659.9,159.64h0.01 M1660.15,156.18h0.01 M1660.67,160.77h0.01 M1660.15,161.05h0.01 M1660.64,160.53h0.01 M1660.55,161.66h0.01 M1660.82,161.42h0.01 M1660.74,159.86h0.01 M1660.35,159.97h0.01 M1660.64,163.7h0.01 M1660.11,159.79h0.01 M1660.56,164.76h0.01 M1661.33,163.34h0.01 M1661.43,159.73h0.01 M1660.64,162.01h0.01 M1660.87,160.17h0.01 M1660.98,162.92h0.01 M1661.7,162.47h0.01 M1661.8,159.72h0.01 M1661.17,160.88h0.01 M1661.18,164.76h0.01 M1661.17,163.46h0.01 M1661.57,161.1h0.01 M1662.26,162.66h0.01 M1662.3,159.95h0.01 M1661.48,162.75h0.01 M1662.05,159.81h0.01 M1661.6,162.95h0.01 M1661.72,161.97h0.01 M1662.63,162.76h0.01 M1662.74,161.07h0.01 M1662.54,158.56h0.01 M1662.67,158.73h0.01 M1663.09,162.71h0.01 M1662.73,163.62h0.01 M1662.58,161.69h0.01 M1663.11,165.86h0.01 M1662.94,157.16h0.01 M1663.36,160.99h0.01 M1662.87,164.61h0.01 M1663.54,159.54h0.01 M1663.71,160.15h0.01 M1664.03,159.41h0.01 M1663.71,162.86h0.01 M1663.62,164.07h0.01 M1663.18,162h0.01 M1663.61,159.98h0.01 M1663.48,158.45h0.01 M1664.35,160.57h0.01 M1664.51,163.15h0.01 M1664.1,158.92h0.01 M1664.74,161.12h0.01 M1664.29,162.61h0.01 M1664.31,159.94h0.01 M1664.16,160.44h0.01 M1663.89,159.51h0.01 M1665.1,161.45h0.01 M1664.43,161.96h0.01 M1664.36,163.79h0.01 M1665.38,159.69h0.01 M1665.22,160.58h0.01 M1665.57,159.89h0.01 M1665.29,163.14h0.01 M1665.77,161.47h0.01 M1665.09,160.7h0.01 M1665.85,158.64h0.01 M1665.57,161.89h0.01 M1664.9,164.87h0.01 M1665.62,161.7h0.01 M1665.67,157.58h0.01 M1666.21,159.49h0.01 M1665.49,160.55h0.01 M1666.05,160.54h0.01 M1666.37,158.76h0.01 M1666.67,160.89h0.01 M1666.48,162.78h0.01 M1666.02,159.36h0.01 M1666.73,160.51h0.01 M1666.06,160.61h0.01 M1667.05,160.29h0.01 M1667.06,160.16h0.01 M1667.06,166.34h0.01 M1666.36,162.33h0.01 M1667.02,159.99h0.01 M1666.83,158.29h0.01 M1666.98,157.18h0.01 M1667.72,156.89h0.01 M1667.85,161.28h0.01 M1667.09,158.37h0.01 M1668.01,161.97h0.01 M1667.86,159.68h0.01 M1667.34,162.61h0.01 M1668.25,161.22h0.01 M1667.81,161.96h0.01 M1668.13,156.92h0.01 M1667.78,161.13h0.01 M1668.03,159.97h0.01 M1667.53,157.33h0.01 M1668.66,163.18h0.01 M1668.87,158.14h0.01 M1667.88,159.49h0.01 M1668.52,161.88h0.01 M1668.96,159.35h0.01 M1668.3,160.77h0.01 M1669.34,159.09h0.01 M1668.33,162.61h0.01 M1669.12,161.59h0.01 M1669.3,157.67h0.01 M1668.69,162.07h0.01 M1668.84,159.95h0.01 M1668.75,161.66h0.01 M1668.95,157.63h0.01 M1669.1,159.56h0.01 M1669.68,158.47h0.01 M1668.97,163.42h0.01 M1669.88,162.37h0.01 M1669.97,158.66h0.01 M1670.38,160.76h0.01 M1669.81,160.91h0.01 M1670.33,157.94h0.01 M1669.98,159.67h0.01 M1670.01,160.72h0.01 M1670.5,159.62h0.01 M1669.82,161.01h0.01 M1670.67,158.85h0.01 M1670.35,158.53h0.01 M1671.11,158.34h0.01 M1670.53,157.77h0.01 M1670.52,159.91h0.01 M1671.35,159.47h0.01 M1670.47,161.05h0.01 M1671.34,162.26h0.01 M1671.62,158.53h0.01 M1670.74,162.64h0.01 M1670.98,157.79h0.01 M1670.84,158.19h0.01 M1671.32,161h0.01 M1671.85,160.21h0.01 M1671.38,161.53h0.01 M1671.18,157.49h0.01 M1671.56,160.96h0.01 M1671.4,159.87h0.01 M1672.27,159.13h0.01 M1672.23,159.99h0.01 M1672.5,160.22h0.01 M1671.52,160.01h0.01 M1672.57,157.45h0.01 M1671.99,159.74h0.01 M1672.45,158.4h0.01 M1673.16,158.92h0.01 M1672.29,159.22h0.01 M1672.49,161.61h0.01 M1672.72,156.73h0.01 M1672.96,158.45h0.01 M1672.63,161.71h0.01 M1673.64,158.62h0.01 M1673.25,161.09h0.01 M1672.77,161.49h0.01 M1673.75,161.21h0.01 M1673.2,159.47h0.01 M1673.48,161.43h0.01 M1673.34,157.44h0.01 M1673.06,159.28h0.01 M1673.4,160.37h0.01 M1674.17,158.51h0.01 M1673.36,157.66h0.01 M1674.05,159.9h0.01 M1673.53,161.19h0.01 M1674.62,161.14h0.01 M1674.12,161.31h0.01 M1674.96,157.81h0.01 M1673.87,160.74h0.01 M1674.04,158.57h0.01 M1674.66,153.99h0.01 M1675.15,162.88h0.01 M1674.9,159.7h0.01 M1674.81,161.1h0.01 M1674.67,159.9h0.01 M1674.6,160.97h0.01 M1674.9,160.94h0.01 M1675.68,160.71h0.01 M1675.54,155.9h0.01 M1675.92,156.21h0.01 M1674.9,161.31h0.01 M1675.43,160.11h0.01 M1676.24,162.62h0.01 M1676,160.08h0.01 M1675.36,159.99h0.01 M1675.41,155.53h0.01 M1676.09,156.15h0.01 M1675.48,160.12h0.01 M1676.35,160.02h0.01 M1676.07,159.54h0.01 M1675.97,158.26h0.01 M1677,160.05h0.01 M1676.31,157.6h0.01 M1676.87,159.51h0.01 M1676.26,160.64h0.01 M1677.11,158.91h0.01 M1676.57,158.26h0.01 M1677.3,158.57h0.01 M1676.58,160.08h0.01 M1677.39,156.57h0.01 M1677.76,159.79h0.01 M1677.55,158.23h0.01 M1676.69,161.08h0.01 M1676.99,155.18h0.01 M1676.87,160.06h0.01 M1677.64,157.65h0.01 M1678.06,161.6h0.01 M1678.09,158.48h0.01 M1678.17,159.6h0.01 M1678.43,157.41h0.01 M1677.84,160.92h0.01 M1677.91,158.18h0.01 M1677.63,162.91h0.01 M1678.13,162.12h0.01 M1678.46,156.12h0.01 M1678.47,159.79h0.01 M1678.01,158.13h0.01 M1678.03,161.87h0.01 M1679.22,161.63h0.01 M1679.14,160.2h0.01 M1678.97,159.82h0.01 M1679.2,159.96h0.01 M1678.84,160.06h0.01 M1679.15,159.81h0.01 M1678.63,158.04h0.01 M1678.9,163.81h0.01 M1679.62,160.51h0.01 M1678.92,159.38h0.01 M1679.73,156.05h0.01 M1679.83,157.76h0.01 M1679.98,160.86h0.01 M1679.15,160.53h0.01 M1680.07,157.55h0.01 M1680.43,160.68h0.01 M1680.55,157.55h0.01 M1680.41,157.91h0.01 M1680.63,159.57h0.01 M1680.76,161.23h0.01 M1680.8,161.07h0.01 M1680.07,157.88h0.01 M1680.94,159.82h0.01 M1680.34,161.67h0.01 M1681.14,157.73h0.01 M1681.14,160.48h0.01 M1681,160.05h0.01 M1680.54,159h0.01 M1681.19,154.78h0.01 M1680.94,159.09h0.01 M1680.69,157.49h0.01 M1681.59,159.21h0.01 M1681.6,159.62h0.01 M1681.56,158.24h0.01 M1681.13,160.09h0.01 M1681.67,158.8h0.01 M1682,159.74h0.01 M1681.29,161.46h0.01 M1681.21,158.77h0.01 M1681.92,159.7h0.01 M1682.21,160.3h0.01 M1681.97,158.2h0.01 M1682.48,158.2h0.01 M1682.09,160.47h0.01 M1682.65,156.68h0.01 M1682.08,161.47h0.01 M1682.27,158.5h0.01 M1682.09,160.25h0.01 M1682.63,159.99h0.01 M1683.35,156.14h0.01 M1682.54,158.34h0.01 M1683,160.22h0.01 M1682.56,159.51h0.01 M1682.46,156.83h0.01 M1683.27,157.6h0.01 M1683.03,159.35h0.01 M1683.47,161.51h0.01 M1683.23,158.74h0.01 M1682.96,158.09h0.01 M1683.43,160.09h0.01 M1683.71,158.51h0.01 M1684.29,159.92h0.01 M1684.31,158h0.01 M1684.11,154.18h0.01 M1684.32,155.97h0.01 M1684.45,159.78h0.01 M1684.53,159.49h0.01 M1684.1,156.06h0.01 M1684.65,159.86h0.01 M1684.14,157.78h0.01 M1683.94,158.71h0.01 M1684.18,159.93h0.01 M1684.39,158.15h0.01 M1685.34,159.75h0.01 M1684.27,163.14h0.01 M1684.9,158.99h0.01 M1685.34,158.48h0.01 M1684.49,158.92h0.01 M1685.81,160.66h0.01 M1685.01,159.26h0.01 M1685.47,156h0.01 M1685.21,161.11h0.01 M1685.6,161.02h0.01 M1686.1,158.26h0.01 M1685.26,160h0.01 M1686.4,157.19h0.01 M1686.05,158.42h0.01 M1685.66,161.95h0.01 M1686.09,158.45h0.01 M1685.53,157.32h0.01 M1686.72,159.77h0.01 M1686.28,161.63h0.01 M1685.95,159.73h0.01 M1686.28,156.99h0.01 M1687.05,160.27h0.01 M1687.14,158.35h0.01 M1686.35,159.16h0.01 M1686.51,155.9h0.01 M1686.7,157.19h0.01 M1686.98,161.15h0.01 M1686.99,157.51h0.01 M1686.58,156.83h0.01 M1687.32,159.39h0.01 M1687.05,157.3h0.01 M1687.83,161.05h0.01 M1687.35,162.71h0.01 M1687.23,157.68h0.01 M1687.54,154.24h0.01 M1687.56,158.53h0.01 M1688.08,158.54h0.01 M1688.13,157.46h0.01 M1688.41,160.42h0.01 M1688.33,156.46h0.01 M1687.78,154.28h0.01 M1688.91,157.09h0.01 M1688.56,157.07h0.01 M1688.11,155.16h0.01 M1688.97,160.27h0.01 M1688.72,159.69h0.01 M1688.47,154.54h0.01 M1688.34,158.93h0.01 M1688.79,158.02h0.01 M1688.38,154.89h0.01 M1688.55,157.43h0.01 M1689.1,155.81h0.01 M1689.59,159.95h0.01 M1689.57,159.96h0.01 M1689.32,158.92h0.01 M1688.96,159.42h0.01 M1689.45,156.74h0.01 M1689.27,154.67h0.01 M1689.15,157.37h0.01 M1689.87,157.97h0.01 M1689.75,158.87h0.01 M1690.03,153.23h0.01 M1690.37,153.84h0.01 M1690.64,157.73h0.01 M1690.6,155.15h0.01 M1690.82,158.19h0.01 M1690.12,156.36h0.01 M1690.82,160.1h0.01 M1691.04,158.43h0.01 M1690.38,156.27h0.01 M1690.8,158.14h0.01 M1691.28,160h0.01 M1691.31,158.85h0.01 M1690.78,159.67h0.01 M1691.15,157.84h0.01 M1690.75,159.62h0.01 M1691.53,156.39h0.01 M1691.62,157.73h0.01 M1690.88,161.95h0.01 M1691.9,158.37h0.01 M1691.74,156.56h0.01 M1691.47,153.26h0.01 M1691.59,158.99h0.01 M1692,158.66h0.01 M1691.87,158.2h0.01 M1691.81,160.39h0.01 M1692.62,156.94h0.01 M1692.25,159.58h0.01 M1691.59,157.25h0.01 M1692.71,157.22h0.01 M1692.07,156.87h0.01 M1692.38,160.36h0.01 M1692.58,156.18h0.01 M1692.75,156.79h0.01 M1692.28,159.58h0.01 M1693.15,160.33h0.01 M1692.42,158.29h0.01 M1692.49,158.16h0.01 M1693.18,153.92h0.01 M1693.73,157.26h0.01 M1693.3,155.49h0.01 M1692.84,160.61h0.01 M1693.28,159.78h0.01 M1693.98,157.8h0.01 M1693.33,159.49h0.01 M1694.2,156.38h0.01 M1693.16,157.42h0.01 M1694.03,161.8h0.01 M1693.52,158.22h0.01 M1694.25,158.91h0.01 M1694.29,156.56h0.01 M1694.41,155.83h0.01 M1694.65,158.38h0.01 M1694.15,157.57h0.01 M1694.52,157.7h0.01 M1695.01,155.21h0.01 M1694.49,159.76h0.01 M1694.55,154.54h0.01 M1694.49,160.33h0.01 M1694.4,155.22h0.01 M1695.08,156.99h0.01 M1694.91,156.83h0.01 M1694.9,160.77h0.01 M1694.92,158.03h0.01 M1694.85,158.36h0.01 M1695.67,155.95h0.01 M1695.14,159.05h0.01 M1695.17,155.87h0.01 M1695.28,153.34h0.01 M1695.94,160.12h0.01 M1696.19,157.07h0.01 M1695.58,157.88h0.01 M1695.63,156.73h0.01 M1695.48,161.04h0.01 M1696.04,157.72h0.01 M1696.06,157.48h0.01 M1696.65,156.13h0.01 M1696.1,161.64h0.01 M1696.47,157.01h0.01 M1697,160.4h0.01 M1696.48,153.54h0.01 M1696.63,156.91h0.01 M1696.79,159.66h0.01 M1697.41,156.38h0.01 M1696.71,159.83h0.01 M1696.92,159.96h0.01 M1697.38,158.36h0.01 M1697.35,159.21h0.01 M1696.97,155.79h0.01 M1698.03,156.47h0.01 M1697.5,158.3h0.01 M1697.73,157.39h0.01 M1697.25,158.98h0.01 M1697.81,155h0.01 M1697.34,160.04h0.01 M1698.13,158.29h0.01 M1697.53,158.58h0.01 M1698.17,157.26h0.01 M1698.64,155.37h0.01 M1698.61,159.4h0.01 M1698.19,155.34h0.01 M1698.41,157.95h0.01 M1698.2,155.87h0.01 M1699.1,160.14h0.01 M1699.16,156.29h0.01 M1698.22,157.84h0.01 M1698.51,154.8h0.01 M1698.75,155.48h0.01 M1699.31,153.46h0.01 M1698.47,155.87h0.01 M1698.94,156.49h0.01 M1698.73,156.02h0.01 M1699.07,156.66h0.01 M1699.52,158.67h0.01 M1699.61,156.42h0.01 M1699.7,157.47h0.01 M1699.45,153.49h0.01 M1700.21,159.35h0.01 M1700.06,158.38h0.01 M1700.51,155.62h0.01 M1700.27,159.82h0.01 M1699.49,157.36h0.01 M1699.85,153.52h0.01 M1700.07,153.03h0.01 M1700.83,159.25h0.01 M1700.16,156.5h0.01 M1700,157.94h0.01 M1700.19,161.3h0.01 M1700.43,155.59h0.01 M1700.94,155.88h0.01 M1701.21,155.64h0.01 M1700.55,157.14h0.01 M1701.54,158.25h0.01 M1701.4,156.45h0.01 M1701.72,157.52h0.01 M1701.64,160.5h0.01 M1701.5,153.75h0.01 M1701.54,157.58h0.01 M1701.96,156.2h0.01 M1701.32,153.47h0.01 M1701.22,158.73h0.01 M1701.61,158.01h0.01 M1702.29,155.35h0.01 M1702.32,157.52h0.01 M1701.89,159.51h0.01 M1702.26,156.65h0.01 M1701.81,154.88h0.01 M1702.75,158.4h0.01 M1702.7,159.74h0.01 M1702.52,159.56h0.01 M1702.09,157.94h0.01 M1702.18,157.48h0.01 M1702.92,158.33h0.01 M1703.12,152.53h0.01 M1702.31,158.92h0.01 M1702.87,156.03h0.01 M1703.28,159.35h0.01 M1702.81,155.37h0.01 M1703.14,157.99h0.01 M1702.8,157.1h0.01 M1703.24,156.63h0.01 M1703.26,154.37h0.01 M1703.94,158.62h0.01 M1704.03,155.93h0.01 M1703.25,155.91h0.01 M1703.42,158.54h0.01 M1703.69,155.77h0.01 M1703.92,156.38h0.01 M1703.83,158.17h0.01 M1704.06,156.37h0.01 M1703.88,157.22h0.01 M1703.78,154.2h0.01 M1704.8,157.6h0.01 M1704.48,154.25h0.01 M1704.64,154.85h0.01 M1704.65,158.81h0.01 M1705.13,159.43h0.01 M1704.62,156.27h0.01 M1704.39,155.83h0.01 M1704.91,155.08h0.01 M1704.81,156.4h0.01 M1705.67,156.47h0.01 M1704.85,155.42h0.01 M1705.62,159.78h0.01 M1705.59,155.46h0.01 M1706.18,156.6h0.01 M1705.58,155.98h0.01 M1705.49,155.91h0.01 M1706.02,156.37h0.01 M1706.12,156.53h0.01 M1705.69,159.69h0.01 M1706.33,151.93h0.01 M1706.08,157.92h0.01 M1705.58,159.69h0.01 M1705.89,158.16h0.01 M1706.7,155.05h0.01 M1706.27,156.95h0.01 M1707.05,154.86h0.01 M1706.6,156.36h0.01 M1706.73,153.85h0.01 M1706.78,157.73h0.01 M1706.63,158.46h0.01 M1706.51,158.36h0.01 M1706.78,157.7h0.01 M1707.63,158.5h0.01 M1707.16,156.46h0.01 M1707.35,159.05h0.01 M1706.86,157.67h0.01 M1707.99,154.6h0.01 M1707.81,157.02h0.01 M1707.18,162.49h0.01 M1707.25,157.52h0.01 M1707.46,157.7h0.01 M1708.38,158.22h0.01 M1707.48,158.6h0.01 M1707.93,158.38h0.01 M1707.9,157.8h0.01 M1708.43,158.06h0.01 M1708.37,156.67h0.01 M1708.55,157.48h0.01 M1708.6,156.69h0.01 M1708.55,153.62h0.01 M1708.9,156.69h0.01 M1708.53,157.77h0.01 M1708.6,154.29h0.01 M1708.55,157.87h0.01 M1709.36,160.18h0.01 M1708.77,156.03h0.01 M1708.65,156.27h0.01 M1709.39,154.71h0.01 M1709.35,155.95h0.01 M1709.37,155.51h0.01 M1709.95,157.82h0.01 M1709.17,155.61h0.01 M1709.52,155.99h0.01 M1709.13,158.37h0.01 M1709.37,158.8h0.01 M1709.83,154.66h0.01 M1709.46,154.96h0.01 M1710.1,154.96h0.01 M1710.63,159.83h0.01 M1710.3,157.07h0.01 M1711.02,154.59h0.01 M1710.7,157.54h0.01 M1710.68,155.85h0.01 M1710.9,155.16h0.01 M1710.37,152.61h0.01 M1710.24,155.28h0.01 M1711.51,156.05h0.01 M1711.45,152.98h0.01 M1711.09,157.02h0.01 M1711.7,155.28h0.01 M1711.8,156.14h0.01 M1710.93,159.19h0.01 M1711.64,158.82h0.01 M1711.9,157.37h0.01 M1711.86,161h0.01 M1711.88,159.92h0.01 M1711.56,156.87h0.01 M1711.28,154.26h0.01 M1711.75,160.81h0.01 M1711.92,159.08h0.01 M1711.81,154.69h0.01 M1712.02,154.13h0.01 M1712.49,155.76h0.01 M1712.4,158.17h0.01 M1712.84,160.19h0.01 M1712.48,157.82h0.01 M1712.91,158.22h0.01 M1712.46,155.16h0.01 M1713.02,159.24h0.01 M1713.13,153.89h0.01 M1712.66,158.43h0.01 M1712.44,155.9h0.01 M1713.44,155.08h0.01 M1713.03,154.35h0.01 M1712.67,159.69h0.01 M1713.8,156.16h0.01 M1713.29,156.92h0.01 M1713.04,156.39h0.01 M1713.57,158.78h0.01 M1713.37,157.52h0.01 M1713.27,156.39h0.01 M1713.47,160.5h0.01 M1713.59,156.39h0.01 M1713.42,155.06h0.01 M1713.54,155.13h0.01 M1714.22,156.69h0.01 M1714.26,157.11h0.01 M1713.94,155.05h0.01 M1715.1,158.28h0.01 M1714.64,154.81h0.01 M1714.46,155.64h0.01 M1714.48,158.97h0.01 M1715.17,152.55h0.01 M1714.66,156.01h0.01 M1715.37,154.68h0.01 M1715.56,156.71h0.01 M1715.61,157.07h0.01 M1715.36,157.16h0.01 M1715.63,152.52h0.01 M1714.79,156.3h0.01 M1715.97,158.21h0.01 M1715.8,156.51h0.01 M1715.88,157.36h0.01 M1716.23,158.04h0.01 M1715.31,156.53h0.01 M1715.69,158.24h0.01 M1715.64,156.47h0.01 M1715.5,157.38h0.01 M1716.54,156.04h0.01 M1716.56,155.13h0.01 M1716.13,157.84h0.01 M1716.02,155.29h0.01 M1716.65,155.74h0.01 M1716.53,158.13h0.01 M1716.29,160.87h0.01 M1716.95,155.59h0.01 M1716.89,153h0.01 M1716.75,153.29h0.01 M1716.52,157.68h0.01 M1717.12,157.36h0.01 M1717.03,154.33h0.01 M1717.53,156.55h0.01 M1717.42,154.44h0.01 M1717.68,155.16h0.01 M1718.15,155.25h0.01 M1717.37,155.78h0.01 M1717.77,155.63h0.01 M1717.88,157.36h0.01 M1717.24,155.35h0.01 M1717.61,153.41h0.01 M1717.84,157.44h0.01 M1718.39,156.44h0.01 M1718.65,155.72h0.01 M1717.8,156.07h0.01 M1718.68,156.95h0.01 M1718.86,155.83h0.01 M1719.13,158.68h0.01 M1718.9,155.98h0.01 M1719.07,158.33h0.01 M1719.27,153.47h0.01 M1718.31,156.36h0.01 M1718.7,156.29h0.01 M1718.72,155.54h0.01 M1719.16,157.33h0.01 M1719.38,156.22h0.01 M1718.96,151.36h0.01 M1719.37,156.18h0.01 M1719.56,158.3h0.01 M1719.63,157.03h0.01 M1719.57,155.31h0.01 M1719.73,156.14h0.01 M1719.66,155.59h0.01 M1720.34,154.56h0.01 M1719.8,157.24h0.01 M1719.83,153.91h0.01 M1720.02,155.55h0.01 M1719.93,158.43h0.01 M1720.07,161.27h0.01 M1720.36,155.94h0.01 M1720.43,157.22h0.01 M1720.5,153.44h0.01 M1720.61,156.22h0.01 M1720.5,155.29h0.01 M1720.36,155.55h0.01 M1720.79,155.79h0.01 M1720.42,153.06h0.01 M1720.79,160.53h0.01 M1720.96,156.41h0.01 M1720.78,154.67h0.01 M1721.27,154.92h0.01 M1721.07,155.05h0.01 M1720.84,155.71h0.01 M1721.73,157.91h0.01 M1721.37,152.47h0.01 M1721.36,155.35h0.01 M1722.14,156.16h0.01 M1722.16,151.37h0.01 M1722.04,154.64h0.01 M1722.6,154.41h0.01 M1721.76,155.23h0.01 M1722.14,156.69h0.01 M1722.87,155.66h0.01 M1722.84,155.6h0.01 M1721.85,156.67h0.01 M1722.06,158.02h0.01 M1722.99,153.86h0.01 M1722.81,151.12h0.01 M1722.81,156.07h0.01 M1723.04,157.59h0.01 M1723.29,156.8h0.01 M1723.32,158.1h0.01 M1722.82,155.43h0.01 M1722.96,154.28h0.01 M1723.04,156.38h0.01 M1723.17,155.66h0.01 M1723.53,154.41h0.01 M1723.66,155.76h0.01 M1723.62,153.74h0.01 M1723.25,155.2h0.01 M1724.14,154.08h0.01 M1723.71,158.99h0.01 M1724.35,155.85h0.01 M1724.73,158.67h0.01 M1723.92,156.65h0.01 M1723.56,153.41h0.01 M1724.52,155.24h0.01 M1724.78,156.31h0.01 M1724.65,156.76h0.01 M1724.5,155.35h0.01 M1724.76,155.18h0.01 M1724.51,156.62h0.01 M1724.84,153.59h0.01 M1724.83,155.84h0.01 M1724.92,155.14h0.01 M1725.15,154.35h0.01 M1725.59,156.37h0.01 M1725.69,152.29h0.01 M1725.41,157.57h0.01 M1725.26,152.71h0.01 M1725.75,153.15h0.01 M1725.28,155.95h0.01 M1725.97,154.66h0.01 M1725.71,157.55h0.01 M1726.25,159.68h0.01 M1726.14,155.11h0.01 M1725.69,152.99h0.01 M1726.02,154.94h0.01 M1726.68,154.76h0.01 M1726.76,157.94h0.01 M1726.1,151.69h0.01 M1726.97,157.76h0.01 M1726.38,154.85h0.01 M1726.2,153.18h0.01 M1727.2,158.81h0.01 M1726.36,152.52h0.01 M1727.01,157.32h0.01 M1727.38,152.06h0.01 M1726.42,154.88h0.01 M1726.78,153.95h0.01 M1727.21,157.12h0.01 M1727.13,156.44h0.01 M1727.34,154.59h0.01 M1727.47,157.68h0.01 M1727.04,155.82h0.01 M1727.14,157.39h0.01 M1727.74,156.83h0.01 M1728.18,154.73h0.01 M1727.81,152.27h0.01 M1727.9,156.66h0.01 M1727.97,156.25h0.01 M1728.15,155.2h0.01 M1727.99,153.05h0.01 M1728.45,155.63h0.01 M1728.23,159.99h0.01 M1728.81,153.4h0.01 M1728.61,155.75h0.01 M1728.88,154.91h0.01 M1728.67,154.16h0.01 M1728.58,158.24h0.01 M1729.46,156.77h0.01 M1728.95,156.5h0.01 M1728.55,157.76h0.01 M1728.95,157.54h0.01 M1728.8,154.36h0.01 M1729.37,151.75h0.01 M1729.64,154.62h0.01 M1729.84,159.81h0.01 M1729.86,154.11h0.01 M1729.71,155.15h0.01 M1729.61,154.71h0.01 M1729.39,154.72h0.01 M1730.06,156.25h0.01 M1730.05,156.39h0.01 M1729.94,157.97h0.01 M1730.32,150.37h0.01 M1730.43,153.04h0.01 M1730.11,156.72h0.01 M1730.95,153.97h0.01 M1730.41,155.37h0.01 M1730.92,161.64h0.01 M1731.06,156.68h0.01 M1730.77,155.16h0.01 M1730.58,156.94h0.01 M1731.29,153.83h0.01 M1730.87,153.71h0.01 M1730.92,156.64h0.01 M1731.5,156.94h0.01 M1730.69,155.77h0.01 M1731.21,155.29h0.01 M1731.28,153.89h0.01 M1731.65,155.06h0.01 M1730.98,159.02h0.01 M1732.23,152.7h0.01 M1732.02,157.22h0.01 M1731.87,157.52h0.01 M1732.39,151.97h0.01 M1731.8,156.22h0.01 M1731.47,158.9h0.01 M1732.08,160.57h0.01 M1731.85,157.88h0.01 M1732.66,159.64h0.01 M1732.47,158.76h0.01 M1731.95,156.52h0.01 M1732.84,153.68h0.01 M1732.22,156.21h0.01 M1732.99,156.89h0.01 M1733.25,153.79h0.01 M1732.67,154.37h0.01 M1732.67,157.22h0.01 M1733.64,155.26h0.01 M1733.47,155.31h0.01 M1732.88,153.1h0.01 M1733.11,158.26h0.01 M1733.28,156.31h0.01 M1734.1,154.11h0.01 M1733,161.12h0.01 M1733.95,157.93h0.01 M1733.88,155.75h0.01 M1734.26,153.68h0.01 M1733.8,156.81h0.01 M1734.54,153.51h0.01 M1734.62,155.63h0.01 M1734.27,154.21h0.01 M1734.81,153.99h0.01 M1734.28,155.75h0.01 M1734.13,157.62h0.01 M1733.99,156.5h0.01 M1734.46,153.81h0.01 M1734.66,158.51h0.01 M1734.76,154.46h0.01 M1734.8,154.33h0.01 M1734.72,152.29h0.01 M1735.61,157.36h0.01 M1735.62,155.41h0.01 M1735.25,154.67h0.01 M1735.18,153.63h0.01 M1735.55,156.79h0.01 M1735,154.64h0.01 M1735.89,154.84h0.01 M1736.11,153.5h0.01 M1736.42,152.2h0.01 M1736.34,154.54h0.01 M1735.82,157.87h0.01 M1736.12,154.86h0.01 M1735.9,155.36h0.01 M1735.53,157.85h0.01 M1735.82,152.86h0.01 M1736.52,157.23h0.01 M1736.54,153.25h0.01 M1736.59,153.79h0.01 M1736.11,156.33h0.01 M1736.37,155.69h0.01 M1736.71,157.2h0.01 M1736.63,156.59h0.01 M1736.73,155.08h0.01 M1737.5,154.72h0.01 M1737.19,155.62h0.01 M1736.93,155.66h0.01 M1737.17,153.41h0.01 M1737.38,154.4h0.01 M1736.84,154.38h0.01 M1737.94,155.11h0.01 M1737.99,159.8h0.01 M1737.66,156.48h0.01 M1737.3,155.84h0.01 M1737.98,152.12h0.01 M1737.71,153.91h0.01 M1738.62,157.25h0.01 M1738.14,152.93h0.01 M1738.64,154.94h0.01 M1738.85,155.08h0.01 M1737.89,153.81h0.01 M1738.81,156.52h0.01 M1738.76,149.33h0.01 M1739.1,153.31h0.01 M1738.81,153.76h0.01 M1739.35,155.66h0.01 M1739.14,156.79h0.01 M1739.44,153.96h0.01 M1738.64,153.89h0.01 M1739.47,159.72h0.01 M1738.76,154.2h0.01 M1739.56,156.17h0.01 M1739.63,153.43h0.01 M1738.88,153.82h0.01 M1739.45,157.95h0.01 M1739.77,153.58h0.01 M1739.76,154.71h0.01 M1739.55,155.26h0.01 M1739.68,156.88h0.01 M1739.69,155.18h0.01 M1740.05,152.02h0.01 M1740.19,156.79h0.01 M1740.64,153.38h0.01 M1740.35,154.3h0.01 M1740.64,156.83h0.01 M1740.97,157.54h0.01 M1740.94,153.55h0.01 M1740.08,151.48h0.01 M1740.74,154.03h0.01 M1740.79,155.81h0.01 M1740.38,154.66h0.01 M1740.77,154.12h0.01 M1740.69,156.42h0.01 M1741.23,154.91h0.01 M1740.6,154.44h0.01 M1740.86,156.94h0.01 M1741.89,154.63h0.01 M1741.37,154.53h0.01 M1741.23,151.9h0.01 M1741.33,156.54h0.01 M1742.08,152.15h0.01 M1742.51,155.17h0.01 M1741.55,154.33h0.01 M1741.94,150.51h0.01 M1741.87,155.28h0.01 M1741.64,152.74h0.01 M1742.68,156.98h0.01 M1742.06,157.48h0.01 M1742.39,153.33h0.01 M1742.53,154.7h0.01 M1743.29,153.75h0.01 M1743.23,157.4h0.01 M1742.28,158.22h0.01 M1743.11,151.84h0.01 M1742.41,154.73h0.01 M1742.97,156.31h0.01 M1742.85,159.72h0.01 M1742.71,152.77h0.01 M1743.59,152.72h0.01 M1743.4,155.97h0.01 M1743.3,152.21h0.01 M1743.24,154.77h0.01 M1743.39,153.97h0.01 M1743.87,155.79h0.01 M1743.78,154.6h0.01 M1744.12,151.99h0.01 M1743.65,154.03h0.01 M1744.33,155.31h0.01 M1744.73,153.6h0.01 M1744.01,152.8h0.01 M1744.28,155.14h0.01 M1744.58,152.49h0.01 M1743.97,155.32h0.01 M1744.93,157.31h0.01 M1744.47,153.03h0.01 M1744.27,154.74h0.01 M1744.48,154.02h0.01 M1744.93,153.04h0.01 M1745.02,152.56h0.01 M1745.22,153.17h0.01 M1745.71,153.2h0.01 M1745.73,152.76h0.01 M1745.17,153.98h0.01 M1745.66,154.62h0.01 M1745.6,155.47h0.01 M1745.19,154.45h0.01 M1746.06,155.43h0.01 M1745.43,151.86h0.01 M1746.26,151.16h0.01 M1746.4,153.44h0.01 M1746.2,151.83h0.01 M1745.55,154.61h0.01 M1746.56,157.24h0.01 M1746.43,153.59h0.01 M1746.55,154.19h0.01 M1746.92,153.79h0.01 M1746.86,154.93h0.01 M1746.04,157.27h0.01 M1746.46,153.12h0.01 M1747.1,156.42h0.01 M1747.3,154.8h0.01 M1746.81,152.97h0.01 M1746.53,152.85h0.01 M1747.1,154.14h0.01 M1747.18,152.92h0.01 M1747.18,151.85h0.01 M1747.27,154.11h0.01 M1747.68,153.52h0.01 M1747.06,153.96h0.01 M1747.52,156.73h0.01 M1747.65,155.79h0.01 M1748.15,153.53h0.01 M1748.05,155.12h0.01 M1748.3,156.25h0.01 M1748.12,151.55h0.01 M1747.62,152.23h0.01 M1747.91,156.39h0.01 M1748.43,154.56h0.01 M1748.03,157.25h0.01 M1748.85,157.27h0.01 M1748.29,157.5h0.01 M1748.28,156.56h0.01 M1749.11,154.78h0.01 M1748.36,160.7h0.01 M1748.6,155.12h0.01 M1749.39,157.4h0.01 M1748.6,150.18h0.01 M1748.93,153.39h0.01 M1749.57,154.25h0.01 M1749.77,153h0.01 M1749.67,153.3h0.01 M1749.1,154.92h0.01 M1749.99,152.43h0.01 M1749.46,153.59h0.01 M1749.23,154.92h0.01 M1750.28,155.27h0.01 M1750.34,152.2h0.01 M1750.18,156.01h0.01 M1750.64,155.66h0.01 M1750.59,154.46h0.01 M1750.46,152.36h0.01 M1749.77,157.32h0.01 M1750.7,155.19h0.01 M1750.3,153.98h0.01 M1751.16,157.18h0.01 M1751.13,153.61h0.01 M1750.33,151.25h0.01 M1750.29,156.62h0.01 M1750.63,156.19h0.01 M1751.67,156.69h0.01 M1751.07,154.91h0.01 M1750.99,153.91h0.01 M1751.9,156.02h0.01 M1750.93,154.21h0.01 M1751.06,155.48h0.01 M1751.31,154.14h0.01 M1751.37,151.23h0.01 M1751.61,155.66h0.01 M1752.2,150.84h0.01 M1751.67,155.06h0.01 M1751.97,153.08h0.01 M1751.72,155.99h0.01 M1752.53,151.76h0.01 M1752.28,158.39h0.01 M1751.88,157.55h0.01 M1752.47,152.11h0.01 M1752.07,155.47h0.01 M1753.1,153.17h0.01 M1753.06,156.13h0.01 M1753.19,155.34h0.01 M1753.22,154.71h0.01 M1753.34,156.57h0.01 M1752.28,156.35h0.01 M1752.98,157.03h0.01 M1753.29,152.46h0.01 M1753.31,155.68h0.01 M1753.65,156.48h0.01 M1753.94,156.22h0.01 M1753.92,156.57h0.01 M1753.27,155.72h0.01 M1754.21,154.05h0.01 M1753.51,158.79h0.01 M1754.38,156.57h0.01 M1753.99,155.69h0.01 M1753.77,153.48h0.01 M1753.64,158.05h0.01 M1754.54,157.25h0.01 M1754.3,151.99h0.01 M1754.28,152.97h0.01 M1754.1,154.71h0.01 M1754.41,154.51h0.01 M1754.84,154.45h0.01 M1755.2,154.21h0.01 M1754.17,153.63h0.01 M1754.37,151.64h0.01 M1754.84,152.58h0.01 M1754.35,157.67h0.01 M1754.76,153.15h0.01 M1755.58,155.91h0.01 M1755.22,153.64h0.01 M1754.81,153.62h0.01 M1755.93,155.49h0.01 M1755.68,154.4h0.01 M1755.2,157.68h0.01 M1755.13,151.2h0.01 M1756.17,156.34h0.01 M1755.67,153.93h0.01 M1755.78,156.49h0.01 M1756.14,152.91h0.01 M1755.9,154.63h0.01 M1756.23,155.48h0.01 M1755.79,154.94h0.01 M1756.05,156.73h0.01 M1756.57,155h0.01 M1756.17,155.94h0.01 M1756.67,153.72h0.01 M1756.84,151.34h0.01 M1756.13,150.81h0.01 M1756.43,155.2h0.01 M1756.77,154.74h0.01 M1756.98,154.81h0.01 M1757.29,150.41h0.01 M1757.22,153.03h0.01 M1756.84,154.79h0.01 M1757.26,156.39h0.01 M1757.13,156.23h0.01 M1757.99,152.68h0.01 M1757.4,157.26h0.01 M1757.36,152.03h0.01 M1758.25,155.27h0.01 M1757.55,155.14h0.01 M1758.37,154.46h0.01 M1757.42,155.49h0.01 M1758.69,153.83h0.01 M1758.01,156.15h0.01 M1758.04,153.1h0.01 M1757.86,152.53h0.01 M1758.97,155.6h0.01 M1758.47,155.54h0.01 M1758.86,152.49h0.01 M1758.83,156.2h0.01 M1758.96,156.15h0.01 M1758.86,154.77h0.01 M1758.86,155.38h0.01 M1759.5,152.84h0.01 M1759.19,154.61h0.01 M1759.5,154.88h0.01 M1759.17,153.44h0.01 M1758.93,153.45h0.01 M1759.09,156.33h0.01 M1759.02,154.65h0.01 M1760.03,152.92h0.01 M1759.29,154.92h0.01 M1760.09,155.38h0.01 M1759.48,154.86h0.01 M1759.91,156.93h0.01 M1760.43,154.09h0.01 M1760.48,154.84h0.01 M1760.12,152.96h0.01 M1760.75,154.03h0.01 M1760.82,154.26h0.01 M1760.03,156.13h0.01 M1761.05,155.59h0.01 M1760.39,155.74h0.01 M1760.71,153.02h0.01 M1760.83,153.27h0.01 M1761.19,154.83h0.01 M1760.85,159.79h0.01 M1761.07,155.86h0.01 M1760.65,153.74h0.01 M1760.94,154.9h0.01 M1761.73,154.7h0.01 M1761.67,155.13h0.01 M1761.34,155.94h0.01 M1761.04,154.16h0.01 M1762.26,154.57h0.01 M1761.7,150.46h0.01 M1761.83,153.57h0.01 M1761.97,153.75h0.01 M1761.8,151.77h0.01 M1762.32,156.39h0.01 M1761.85,155.6h0.01 M1762.27,155.21h0.01 M1762.08,156.38h0.01 M1762.74,153.77h0.01 M1762.64,155.02h0.01 M1762.4,153.78h0.01 M1762.19,151.33h0.01 M1762.87,158.5h0.01 M1762.86,154.68h0.01 M1763.12,153.73h0.01 M1762.79,154.64h0.01 M1762.78,156.65h0.01 M1762.99,158.99h0.01 M1763.29,154.45h0.01 M1762.8,157.98h0.01 M1764.1,154.91h0.01 M1763.46,155.46h0.01 M1763.3,157.17h0.01 M1763.25,155.95h0.01 M1763.53,154.77h0.01 M1763.63,154.18h0.01 M1764.11,156.29h0.01 M1763.86,154.15h0.01 M1764.61,156.77h0.01 M1764.55,153.67h0.01 M1763.74,149.97h0.01 M1764.73,153.02h0.01 M1764.8,154.55h0.01 M1764.66,149.35h0.01 M1764.16,153.48h0.01 M1765.27,152.74h0.01 M1764.45,155.97h0.01 M1764.98,151.87h0.01 M1764.71,151.7h0.01 M1765.64,154.57h0.01 M1765.29,153.94h0.01 M1765.23,147.95h0.01 M1765.46,152.07h0.01 M1765.09,153.37h0.01 M1765.38,158.17h0.01 M1765.26,156.53h0.01 M1765.98,153.03h0.01 M1765.26,155.5h0.01 M1765.81,154.54h0.01 M1766.14,155.92h0.01 M1766.6,156.99h0.01 M1766.54,155.23h0.01 M1766.49,155.44h0.01 M1766.32,150.87h0.01 M1765.78,155.16h0.01 M1766.19,157.44h0.01 M1766.55,153.35h0.01 M1766.29,152.12h0.01 M1766.32,155.99h0.01 M1767.13,153.01h0.01 M1767.05,152.86h0.01 M1766.83,155.69h0.01 M1767.11,152.88h0.01 M1767.02,153.25h0.01 M1767.38,153.67h0.01 M1767.66,156.11h0.01 M1767.52,153.22h0.01 M1767.55,153.58h0.01 M1767.89,154.94h0.01 M1768.07,154.85h0.01 M1767.55,154.23h0.01 M1768.32,153.31h0.01 M1767.96,154.46h0.01 M1767.88,157.03h0.01 M1767.78,154.49h0.01 M1767.89,153.96h0.01 M1768.52,154.92h0.01 M1768.9,153.14h0.01 M1767.87,151.82h0.01 M1767.93,156.81h0.01 M1768.43,152.02h0.01 M1768.46,155.32h0.01 M1768.31,151.87h0.01 M1769.04,154.56h0.01 M1768.4,157.31h0.01 M1769.02,154.77h0.01 M1769.37,153.52h0.01 M1768.69,153.41h0.01 M1769.62,152.1h0.01 M1769.67,153.75h0.01 M1769.04,156.98h0.01 M1769.05,153.33h0.01 M1769.93,152.34h0.01 M1769.19,153.84h0.01 M1769.22,151.84h0.01 M1770.38,153.68h0.01 M1769.69,150.47h0.01 M1770.2,152.1h0.01 M1770.32,156.07h0.01 M1770.53,151.97h0.01 M1770.34,154.64h0.01 M1770.68,156.57h0.01 M1770.62,153.51h0.01 M1770.49,154.12h0.01 M1771.02,155.95h0.01 M1770.63,152.12h0.01 M1770.31,155.18h0.01 M1770.33,157.35h0.01 M1770.82,153.43h0.01 M1771.49,155.88h0.01 M1770.63,153.6h0.01 M1770.62,150.7h0.01 M1770.79,153.64h0.01 M1771.27,155.1h0.01 M1771.77,156.46h0.01 M1771.34,153.6h0.01 M1771.77,152.96h0.01 M1771.42,156.26h0.01 M1771.65,151.54h0.01 M1771.99,154.87h0.01 M1772.04,152.3h0.01 M1771.79,154.88h0.01 M1772.2,156.6h0.01 M1772.34,154.75h0.01 M1771.82,156.3h0.01 M1772.83,152.15h0.01 M1772.33,155.34h0.01 M1772.46,153.44h0.01 M1772.72,153.11h0.01 M1773.21,156.01h0.01 M1772.1,153.79h0.01 M1772.97,152.69h0.01 M1773.17,150.11h0.01 M1773.29,153.46h0.01 M1772.61,154.08h0.01 M1773.43,157.09h0.01 M1773.2,155.05h0.01 M1773.22,154.21h0.01 M1773.46,153.62h0.01 M1773.61,152.33h0.01 M1773.86,151.11h0.01 M1773.36,156.66h0.01 M1774.02,154.14h0.01 M1773.88,157.2h0.01 M1773.74,154.8h0.01 M1774.28,152.14h0.01 M1774.19,155.38h0.01 M1773.86,154.49h0.01 M1773.76,156.45h0.01 M1774.45,154.08h0.01 M1774.68,153.49h0.01 M1774.88,154.18h0.01 M1775,154.93h0.01 M1774.41,152h0.01 M1775.23,156.01h0.01 M1774.5,155.02h0.01 M1774.72,157.59h0.01 M1774.97,152.15h0.01" stroke="#bebebe" stroke-width="2.4" stroke-linecap="round" fill="none"/>
<path d="M1523.5,355.3 L1523.63,355.3 L1523.75,352.77 L1523.88,350.2 L1524.01,347.72 L1524.13,345.32 L1524.26,343 L1524.39,340.75 L1524.52,338.57 L1524.64,336.46 L1524.77,334.41 L1524.9,332.43 L1525.02,330.5 L1525.15,328.63 L1525.28,326.81 L1525.4,325.04 L1525.53,323.32 L1525.66,321.65 L1525.79,320.02 L1525.91,318.43 L1526.04,316.89 L1526.17,315.38 L1526.29,313.91 L1526.42,312.48 L1526.55,311.08 L1526.67,309.71 L1526.8,308.38 L1526.93,307.07 L1527.06,305.8 L1527.18,304.55 L1527.31,303.32 L1527.44,302.13 L1527.56,300.96 L1527.69,299.81 L1527.82,298.68 L1527.94,297.58 L1528.07,296.49 L1528.2,295.43 L1528.33,294.38 L1528.45,293.36 L1528.58,292.35 L1528.71,291.36 L1528.83,290.39 L1528.96,289.43 L1529.09,288.49 L1529.21,287.56 L1529.34,286.65 L1529.47,285.75 L1529.6,284.87 L1529.72,284 L1529.85,283.14 L1529.98,282.29 L1530.1,281.46 L1530.23,280.63 L1530.36,279.82 L1530.48,279.02 L1530.61,278.23 L1530.74,277.45 L1530.87,276.68 L1530.99,275.92 L1531.12,275.17 L1531.25,274.42 L1531.37,273.69 L1531.5,272.97 L1531.63,272.25 L1531.76,271.54 L1531.88,270.84 L1532.01,270.15 L1532.14,269.47 L1532.26,268.79 L1532.39,268.12 L1532.52,267.46 L1532.64,266.8 L1532.77,266.15 L1532.9,265.51 L1533.03,264.87 L1533.15,264.24 L1533.28,263.62 L1533.41,263 L1533.53,262.39 L1533.66,261.79 L1533.79,261.19 L1533.91,260.6 L1534.04,260.01 L1534.17,259.42 L1534.3,258.85 L1534.42,258.28 L1534.55,257.71 L1534.68,257.15 L1534.8,256.59 L1534.93,256.04 L1535.06,255.49 L1535.18,254.95 L1535.31,254.41 L1535.44,253.88 L1535.57,253.35 L1535.69,252.83 L1535.82,252.31 L1535.95,251.79 L1536.07,251.28 L1536.2,250.77 L1536.33,250.27 L1536.45,249.77 L1536.58,249.28 L1536.71,248.79 L1536.84,248.3 L1536.96,247.82 L1537.09,247.34 L1537.22,246.87 L1537.34,246.4 L1537.47,245.93 L1537.6,245.47 L1537.72,245.01 L1537.85,244.55 L1537.98,244.1 L1538.11,243.65 L1538.23,243.2 L1538.36,242.76 L1538.49,242.32 L1538.61,241.89 L1538.74,241.46 L1538.87,241.03 L1538.99,240.6 L1539.12,240.18 L1539.25,239.76 L1539.38,239.34 L1539.5,238.93 L1539.63,238.52 L1539.76,238.12 L1539.88,237.71 L1540.01,237.31 L1540.14,236.91 L1540.26,236.52 L1540.39,236.13 L1540.52,235.74 L1540.64,235.35 L1540.77,234.97 L1540.9,234.59 L1541.03,234.21 L1541.15,233.84 L1541.28,233.46 L1541.41,233.09 L1541.53,232.73 L1541.66,232.36 L1541.79,232 L1541.91,231.64 L1542.04,231.29 L1542.17,230.93 L1542.3,230.58 L1542.42,230.23 L1542.55,229.89 L1542.68,229.54 L1542.8,229.2 L1542.93,228.86 L1543.06,228.53 L1543.18,228.19 L1543.31,227.86 L1543.44,227.53 L1543.57,227.2 L1543.69,226.88 L1543.82,226.55 L1543.95,226.23 L1544.07,225.92 L1544.2,225.6 L1544.33,225.29 L1544.45,224.97 L1544.58,224.67 L1544.71,224.36 L1544.84,224.05 L1544.96,223.75 L1545.09,223.45 L1545.22,223.15 L1545.34,222.85 L1545.47,222.56 L1545.6,222.27 L1545.72,221.97 L1545.85,221.69 L1545.98,221.4 L1546.11,221.11 L1546.23,220.83 L1546.36,220.55 L1546.49,220.27 L1546.61,219.99 L1546.74,219.72 L1546.87,219.44 L1547,219.17 L1547.12,218.9 L1547.25,218.63 L1547.38,218.37 L1547.5,218.1 L1547.63,217.84 L1547.76,217.58 L1547.88,217.32 L1548.01,217.06 L1548.14,216.81 L1548.27,216.55 L1548.39,216.3 L1548.52,216.05 L1548.65,215.8 L1548.77,215.55 L1548.9,215.31 L1550.17,212.93 L1551.44,210.71 L1552.71,208.62 L1553.98,206.65 L1555.25,204.81 L1556.52,203.07 L1557.79,201.43 L1559.06,199.88 L1560.33,198.41 L1561.6,197.03 L1562.87,195.71 L1564.14,194.47 L1565.41,193.28 L1566.68,192.16 L1567.95,191.08 L1569.22,190.06 L1570.49,189.08 L1571.76,188.15 L1573.03,187.26 L1574.3,186.4 L1575.57,185.58 L1576.84,184.79 L1578.11,184.04 L1579.38,183.31 L1580.65,182.61 L1581.92,181.93 L1583.19,181.28 L1584.46,180.65 L1585.73,180.04 L1587,179.45 L1588.27,178.88 L1589.54,178.32 L1590.81,177.79 L1592.08,177.26 L1593.35,176.76 L1594.62,176.27 L1595.89,175.79 L1597.16,175.32 L1598.43,174.87 L1599.7,174.43 L1600.97,174 L1602.24,173.58 L1603.51,173.17 L1604.78,172.77 L1606.05,172.38 L1607.32,172 L1608.59,171.62 L1609.86,171.26 L1611.13,170.9 L1612.4,170.55 L1613.67,170.21 L1614.94,169.88 L1616.21,169.55 L1617.48,169.23 L1618.75,168.92 L1620.02,168.61 L1621.29,168.31 L1622.56,168.02 L1623.83,167.73 L1625.1,167.44 L1626.37,167.17 L1627.64,166.89 L1628.91,166.63 L1630.18,166.37 L1631.45,166.11 L1632.72,165.86 L1633.99,165.61 L1635.26,165.37 L1636.53,165.13 L1637.8,164.89 L1639.07,164.66 L1640.34,164.44 L1641.61,164.22 L1642.88,164 L1644.15,163.79 L1645.42,163.58 L1646.69,163.37 L1647.96,163.17 L1649.23,162.97 L1650.5,162.78 L1651.77,162.59 L1653.04,162.4 L1654.31,162.21 L1655.58,162.03 L1656.85,161.85 L1658.12,161.68 L1659.39,161.51 L1660.66,161.34 L1661.93,161.17 L1663.2,161.01 L1664.47,160.85 L1665.74,160.69 L1667.01,160.54 L1668.28,160.39 L1669.55,160.24 L1670.82,160.09 L1672.09,159.95 L1673.36,159.81 L1674.63,159.67 L1675.9,159.53 L1677.17,159.4 L1678.44,159.27 L1679.71,159.14 L1680.98,159.01 L1682.25,158.89 L1683.52,158.76 L1684.79,158.64 L1686.06,158.53 L1687.33,158.41 L1688.6,158.29 L1689.87,158.18 L1691.14,158.07 L1692.41,157.96 L1693.68,157.86 L1694.95,157.75 L1696.22,157.65 L1697.49,157.55 L1698.76,157.45 L1700.03,157.35 L1701.3,157.26 L1702.57,157.16 L1703.84,157.07 L1705.11,156.98 L1706.38,156.89 L1707.65,156.8 L1708.92,156.71 L1710.19,156.63 L1711.46,156.55 L1712.73,156.46 L1714,156.38 L1715.27,156.31 L1716.54,156.23 L1717.81,156.15 L1719.08,156.08 L1720.35,156 L1721.62,155.93 L1722.89,155.86 L1724.16,155.79 L1725.43,155.72 L1726.7,155.65 L1727.97,155.59 L1729.24,155.52 L1730.51,155.46 L1731.78,155.39 L1733.05,155.33 L1734.32,155.27 L1735.59,155.21 L1736.86,155.15 L1738.13,155.1 L1739.4,155.04 L1740.67,154.98 L1741.94,154.93 L1743.21,154.87 L1744.48,154.82 L1745.75,154.77 L1747.02,154.72 L1748.29,154.67 L1749.56,154.62 L1750.83,154.57 L1752.1,154.52 L1753.37,154.48 L1754.64,154.43 L1755.91,154.39 L1757.18,154.34 L1758.45,154.3 L1759.72,154.26 L1760.99,154.21 L1762.26,154.17 L1763.53,154.13 L1764.8,154.09 L1766.07,154.05 L1767.34,154.01 L1768.61,153.98 L1769.88,153.94 L1771.15,153.9 L1772.42,153.87 L1773.69,153.83 L1774.96,153.8 L1776.23,153.76" stroke="#000" stroke-width="3.5" fill="none" stroke-dasharray="12 7.2"/>
<rect x="1497.9" y="128.9" width="279.1" height="252.1" fill="none" stroke="#000" stroke-width="1.8"/>
<line x1="1497.9" y1="355.3" x2="1502" y2="355.3" stroke="#000" stroke-width="1.8" />
<line x1="1777" y1="355.3" x2="1773" y2="355.3" stroke="#000" stroke-width="1.8" />
<text x="1482.5" y="364.6" font-family="'Liberation Sans', Arial, sans-serif" font-size="31" text-anchor="end" font-weight="normal" >0</text>
<line x1="1497.9" y1="317.45" x2="1502" y2="317.45" stroke="#000" stroke-width="1.8" />
<line x1="1777" y1="317.45" x2="1773" y2="317.45" stroke="#000" stroke-width="1.8" />
<text x="1482.5" y="326.75" font-family="'Liberation Sans', Arial, sans-serif" font-size="31" text-anchor="end" font-weight="normal" >1</text>
<line x1="1497.9" y1="279.6" x2="1502" y2="279.6" stroke="#000" stroke-width="1.8" />
<line x1="1777" y1="279.6" x2="1773" y2="279.6" stroke="#000" stroke-width="1.8" />
<text x="1482.5" y="288.9" font-family="'Liberation Sans', Arial, sans-serif" font-size="31" text-anchor="end" font-weight="normal" >2</text>
<line x1="1497.9" y1="241.75" x2="1502" y2="241.75" stroke="#000" stroke-width="1.8" />
<line x1="1777" y1="241.75" x2="1773" y2="241.75" stroke="#000" stroke-width="1.8" />
<text x="1482.5" y="251.05" font-family="'Liberation Sans', Arial, sans-serif" font-size="31" text-anchor="end" font-weight="normal" >3</text>
<line x1="1497.9" y1="203.9" x2="1502" y2="203.9" stroke="#000" stroke-width="1.8" />
<line x1="1777" y1="203.9" x2="1773" y2="203.9" stroke="#000" stroke-width="1.8" />
<text x="1482.5" y="213.2" font-family="'Liberation Sans', Arial, sans-serif" font-size="31" text-anchor="end" font-weight="normal" >4</text>
<line x1="1497.9" y1="166.05" x2="1502" y2="166.05" stroke="#000" stroke-width="1.8" />
<line x1="1777" y1="166.05" x2="1773" y2="166.05" stroke="#000" stroke-width="1.8" />
<text x="1482.5" y="175.35" font-family="'Liberation Sans', Arial, sans-serif" font-size="31" text-anchor="end" font-weight="normal" >5</text>
<line x1="1497.9" y1="128.2" x2="1502" y2="128.2" stroke="#000" stroke-width="1.8" />
<line x1="1777" y1="128.2" x2="1773" y2="128.2" stroke="#000" stroke-width="1.8" />
<text x="1482.5" y="137.5" font-family="'Liberation Sans', Arial, sans-serif" font-size="31" text-anchor="end" font-weight="normal" >6</text>
<line x1="1523.5" y1="381" x2="1523.5" y2="376.9" stroke="#000" stroke-width="1.8" />
<line x1="1523.5" y1="128.9" x2="1523.5" y2="132.6" stroke="#000" stroke-width="1.8" />
<text x="1523.5" y="416.3" font-family="'Liberation Sans', Arial, sans-serif" font-size="31" text-anchor="middle" font-weight="normal" >0</text>
<line x1="1574.3" y1="381" x2="1574.3" y2="376.9" stroke="#000" stroke-width="1.8" />
<line x1="1574.3" y1="128.9" x2="1574.3" y2="132.6" stroke="#000" stroke-width="1.8" />
<text x="1574.3" y="416.3" font-family="'Liberation Sans', Arial, sans-serif" font-size="31" text-anchor="middle" font-weight="normal" >2</text>
<line x1="1625.1" y1="381" x2="1625.1" y2="376.9" stroke="#000" stroke-width="1.8" />
<line x1="1625.1" y1="128.9" x2="1625.1" y2="132.6" stroke="#000" stroke-width="1.8" />
<text x="1625.1" y="416.3" font-family="'Liberation Sans', Arial, sans-serif" font-size="31" text-anchor="middle" font-weight="normal" >4</text>
<line x1="1675.9" y1="381" x2="1675.9" y2="376.9" stroke="#000" stroke-width="1.8" />
<line x1="1675.9" y1="128.9" x2="1675.9" y2="132.6" stroke="#000" stroke-width="1.8" />
<text x="1675.9" y="416.3" font-family="'Liberation Sans', Arial, sans-serif" font-size="31" text-anchor="middle" font-weight="normal" >6</text>
<line x1="1726.7" y1="381" x2="1726.7" y2="376.9" stroke="#000" stroke-width="1.8" />
<line x1="1726.7" y1="128.9" x2="1726.7" y2="132.6" stroke="#000" stroke-width="1.8" />
<text x="1726.7" y="416.3" font-family="'Liberation Sans', Arial, sans-serif" font-size="31" text-anchor="middle" font-weight="normal" >8</text>
<text x="1546.9" y="459.2" font-family="'Liberation Sans', Arial, sans-serif" font-size="31">Time (×10<tspan font-size="18" dy="-11">4</tspan><tspan dy="11"> s)</tspan></text>
<text transform="translate(1399.8,255.6) rotate(-90)" font-family="'Liberation Sans', Arial, sans-serif" font-size="31" text-anchor="middle">Fluorescence</text>
<text transform="translate(1437,254.8) rotate(-90)" font-family="'Liberation Sans', Arial, sans-serif" font-size="31" text-anchor="middle">intensity (×10<tspan font-size="18" dy="-11">4</tspan><tspan dy="11">)</tspan></text>
<circle cx="1624.3" cy="247.8" r="4.7" fill="#bdbaba"/>
<text x="1649.6" y="257.4" font-family="'Liberation Sans', Arial, sans-serif" font-size="31" text-anchor="start" font-weight="normal" >Data</text>
<line x1="1609.1" y1="286.4" x2="1639" y2="286.4" stroke="#000" stroke-width="3.2" stroke-dasharray="6.5 5"/>
<text x="1650.5" y="296.5" font-family="'Liberation Sans', Arial, sans-serif" font-size="31" text-anchor="start" font-weight="normal" >Fit</text>
</svg>
</body></html>
